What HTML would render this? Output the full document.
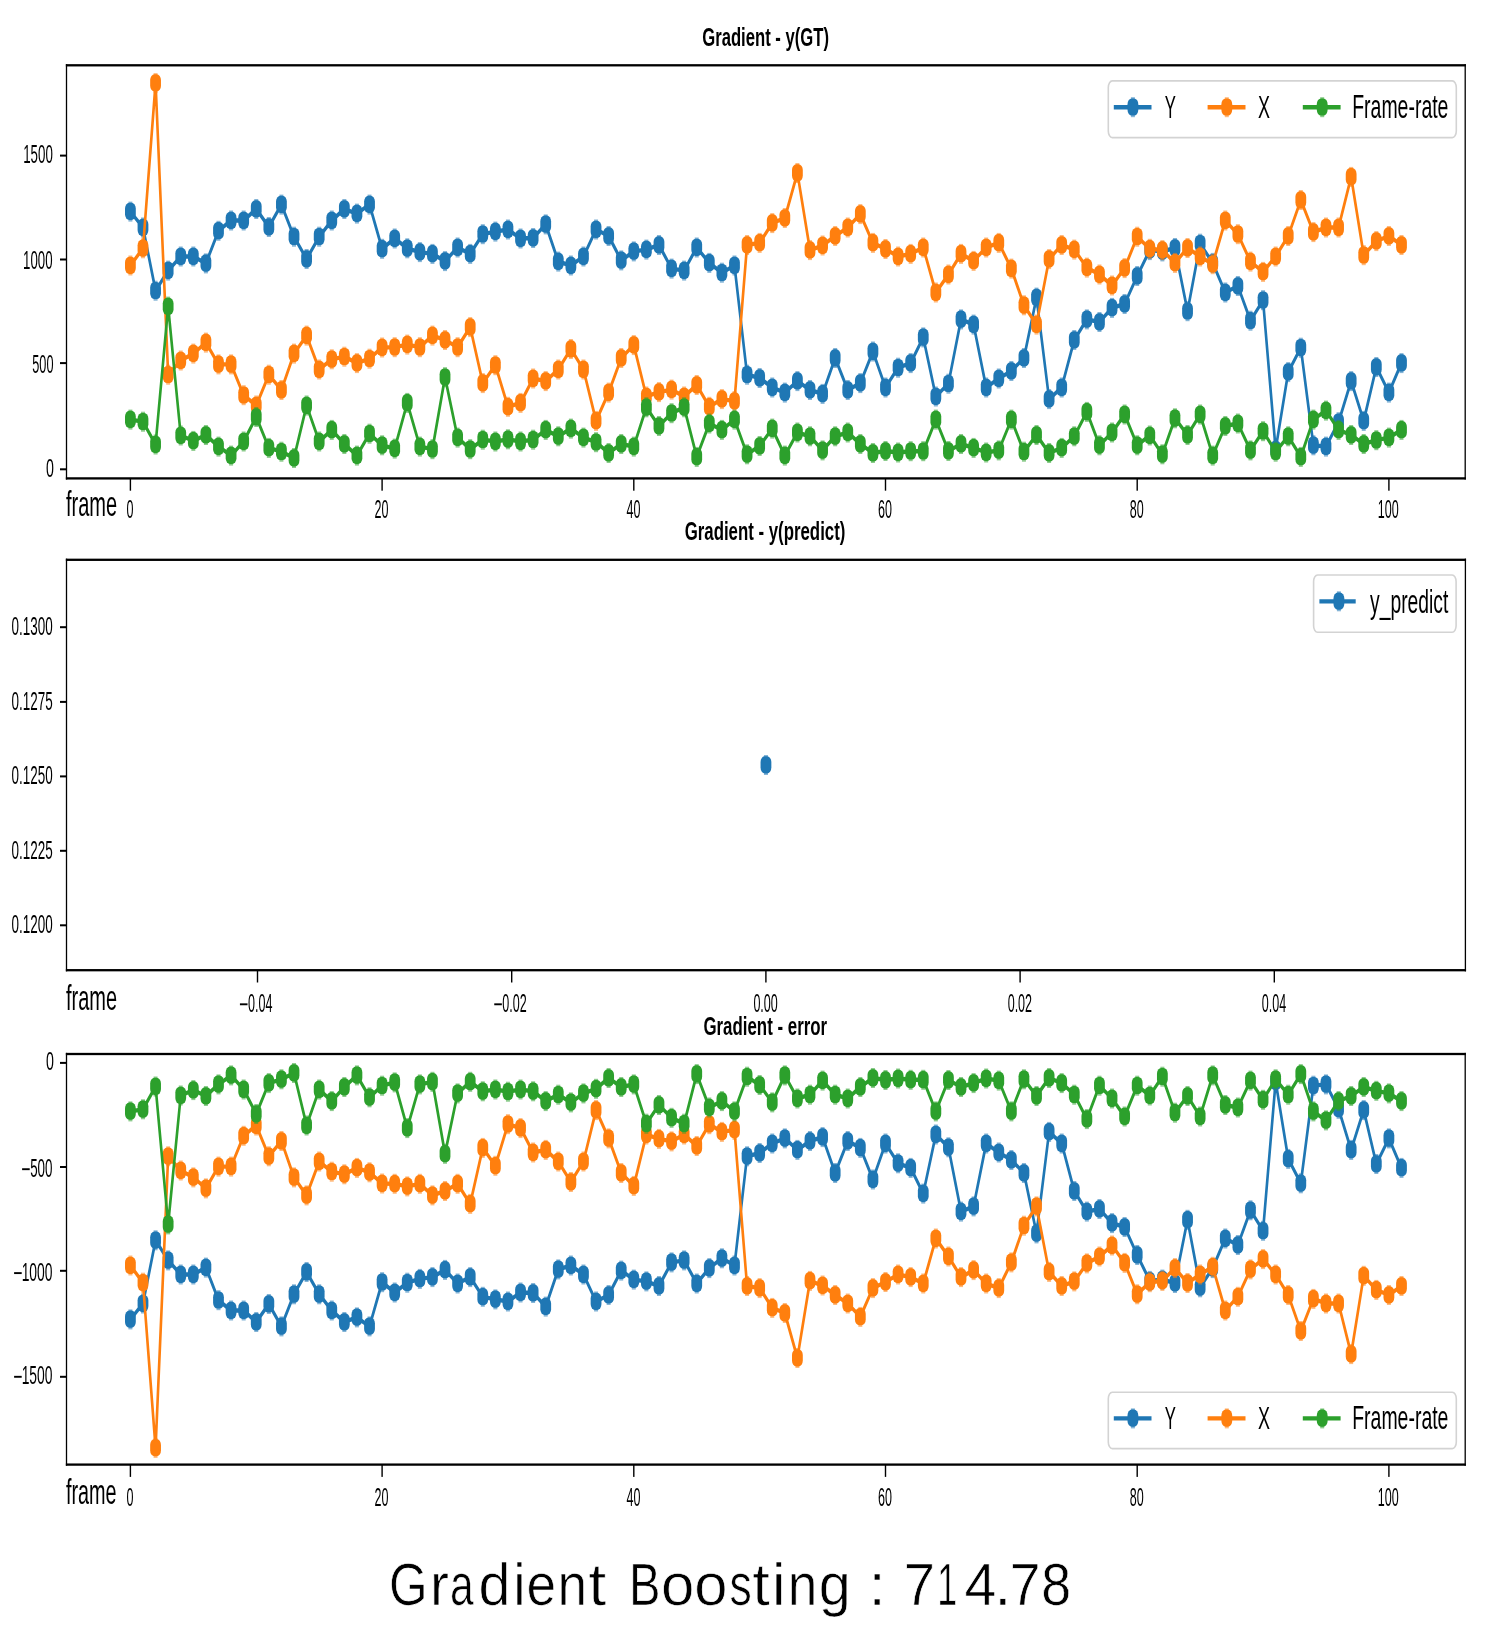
<!DOCTYPE html>
<html><head><meta charset="utf-8"><title>Gradient Boosting</title>
<style>
html,body{margin:0;padding:0;background:#fff;}
svg{display:block;will-change:transform;}
text{font-family:"Liberation Sans",sans-serif;font-kerning:none;}
</style></head><body>
<svg width="1485" height="1635" viewBox="0 0 1485 1635">
<rect width="1485" height="1635" fill="#fff"/>
<text transform="translate(702.22,45.80) scale(0.6591,1)" font-size="25.30" font-weight="bold" fill="#000">Gradient - y(GT)</text>
<rect x="65.85" y="64.15" width="1400.00" height="2.30" fill="#000"/>
<rect x="65.85" y="477.25" width="1400.00" height="2.30" fill="#000"/>
<rect x="65.85" y="64.15" width="1.30" height="415.40" fill="#000"/>
<rect x="1464.55" y="64.15" width="1.30" height="415.40" fill="#000"/>
<rect x="60.00" y="154.60" width="6.50" height="2.00" fill="#000"/>
<rect x="60.00" y="258.50" width="6.50" height="2.00" fill="#000"/>
<rect x="60.00" y="362.10" width="6.50" height="2.00" fill="#000"/>
<rect x="60.00" y="468.30" width="6.50" height="2.00" fill="#000"/>
<text transform="translate(23.19,163.15) scale(0.5307,1)" font-size="25.10" fill="#000">1500</text>
<text transform="translate(23.09,269.35) scale(0.5270,1)" font-size="25.10" fill="#000">1000</text>
<text transform="translate(32.29,373.15) scale(0.5064,1)" font-size="25.10" fill="#000">500</text>
<text transform="translate(46.04,476.75) scale(0.5667,1)" font-size="25.10" fill="#000">0</text>
<rect x="129.70" y="478.40" width="1.40" height="12.30" fill="#000"/>
<text transform="translate(126.41,517.55) scale(0.5000,1)" font-size="25.10" fill="#000">0</text>
<rect x="381.40" y="478.40" width="1.40" height="12.30" fill="#000"/>
<text transform="translate(374.55,517.55) scale(0.5000,1)" font-size="25.10" fill="#000">20</text>
<rect x="633.10" y="478.40" width="1.40" height="12.30" fill="#000"/>
<text transform="translate(626.42,517.55) scale(0.5000,1)" font-size="25.10" fill="#000">40</text>
<rect x="884.80" y="478.40" width="1.40" height="12.30" fill="#000"/>
<text transform="translate(877.95,517.55) scale(0.5000,1)" font-size="25.10" fill="#000">60</text>
<rect x="1136.50" y="478.40" width="1.40" height="12.30" fill="#000"/>
<text transform="translate(1129.69,517.55) scale(0.5000,1)" font-size="25.10" fill="#000">80</text>
<rect x="1388.20" y="478.40" width="1.40" height="12.30" fill="#000"/>
<text transform="translate(1377.70,517.55) scale(0.5000,1)" font-size="25.10" fill="#000">100</text>
<text transform="translate(65.92,515.90) scale(0.5720,1)" font-size="35.00" fill="#000">frame</text>
<g transform="scale(1.75,2.9)">
<polyline points="74.51,72.97 81.71,78.45 88.90,100.24 96.09,93.31 103.28,88.45 110.47,88.45 117.66,90.83 124.85,79.59 132.05,76.03 139.24,76.03 146.43,72.07 153.62,78.28 160.81,70.55 168.00,81.62 175.19,89.31 182.39,81.62 189.58,76.03 196.77,72.07 203.96,73.66 211.15,70.55 218.34,85.79 225.53,82.24 232.73,85.62 239.92,86.93 247.11,87.55 254.30,90.03 261.49,85.34 268.68,87.55 275.87,80.76 283.07,79.86 290.26,79.14 297.45,82.24 304.64,82.07 311.83,77.38 319.02,90.21 326.21,91.55 333.41,88.45 340.60,79.14 347.79,81.38 354.98,89.79 362.17,86.69 369.36,86.07 376.55,84.48 383.75,92.62 390.94,93.31 398.13,85.34 405.32,90.66 412.51,94.03 419.70,91.55 426.89,129.21 434.09,130.34 441.28,133.62 448.47,135.38 455.66,131.41 462.85,134.48 470.04,135.83 477.23,123.45 484.43,134.48 491.62,132.10 498.81,121.21 506.00,133.62 513.19,126.79 520.38,125.21 527.57,116.34 534.77,136.72 541.96,132.31 549.15,110.14 556.34,111.93 563.53,133.62 570.72,130.52 577.91,127.93 585.11,123.45 592.30,102.62 599.49,137.62 606.68,133.62 613.87,117.24 621.06,110.14 628.25,111.03 635.45,106.17 642.64,104.83 649.83,95.17 657.02,86.24 664.21,86.69 671.40,85.52 678.59,107.31 685.79,84.03 692.98,90.66 700.17,100.86 707.36,98.62 714.55,110.59 721.74,103.52 728.93,155.00 736.13,128.31 743.32,119.90 750.51,153.55 757.70,154.00 764.89,145.59 772.08,131.41 779.27,145.14 786.47,126.55 793.66,135.38 800.85,125.21" fill="none" stroke="#1f77b4" stroke-width="1.5" stroke-linejoin="round" stroke-linecap="butt"/>
</g>
<g fill="#1f77b4">
<rect x="128.40" y="201.60" width="4" height="20" fill-opacity="0.55"/><rect x="125.00" y="202.80" width="10.8" height="17.2" rx="4.3" ry="5.8"/>
<rect x="140.99" y="217.50" width="4" height="20" fill-opacity="0.55"/><rect x="137.59" y="218.70" width="10.8" height="17.2" rx="4.3" ry="5.8"/>
<rect x="153.57" y="280.70" width="4" height="20" fill-opacity="0.55"/><rect x="150.17" y="281.90" width="10.8" height="17.2" rx="4.3" ry="5.8"/>
<rect x="166.16" y="260.60" width="4" height="20" fill-opacity="0.55"/><rect x="162.75" y="261.80" width="10.8" height="17.2" rx="4.3" ry="5.8"/>
<rect x="178.74" y="246.50" width="4" height="20" fill-opacity="0.55"/><rect x="175.34" y="247.70" width="10.8" height="17.2" rx="4.3" ry="5.8"/>
<rect x="191.33" y="246.50" width="4" height="20" fill-opacity="0.55"/><rect x="187.93" y="247.70" width="10.8" height="17.2" rx="4.3" ry="5.8"/>
<rect x="203.91" y="253.40" width="4" height="20" fill-opacity="0.55"/><rect x="200.51" y="254.60" width="10.8" height="17.2" rx="4.3" ry="5.8"/>
<rect x="216.50" y="220.80" width="4" height="20" fill-opacity="0.55"/><rect x="213.09" y="222.00" width="10.8" height="17.2" rx="4.3" ry="5.8"/>
<rect x="229.08" y="210.50" width="4" height="20" fill-opacity="0.55"/><rect x="225.68" y="211.70" width="10.8" height="17.2" rx="4.3" ry="5.8"/>
<rect x="241.67" y="210.50" width="4" height="20" fill-opacity="0.55"/><rect x="238.27" y="211.70" width="10.8" height="17.2" rx="4.3" ry="5.8"/>
<rect x="254.25" y="199.00" width="4" height="20" fill-opacity="0.55"/><rect x="250.85" y="200.20" width="10.8" height="17.2" rx="4.3" ry="5.8"/>
<rect x="266.84" y="217.00" width="4" height="20" fill-opacity="0.55"/><rect x="263.44" y="218.20" width="10.8" height="17.2" rx="4.3" ry="5.8"/>
<rect x="279.42" y="194.60" width="4" height="20" fill-opacity="0.55"/><rect x="276.02" y="195.80" width="10.8" height="17.2" rx="4.3" ry="5.8"/>
<rect x="292.00" y="226.70" width="4" height="20" fill-opacity="0.55"/><rect x="288.61" y="227.90" width="10.8" height="17.2" rx="4.3" ry="5.8"/>
<rect x="304.59" y="249.00" width="4" height="20" fill-opacity="0.55"/><rect x="301.19" y="250.20" width="10.8" height="17.2" rx="4.3" ry="5.8"/>
<rect x="317.18" y="226.70" width="4" height="20" fill-opacity="0.55"/><rect x="313.78" y="227.90" width="10.8" height="17.2" rx="4.3" ry="5.8"/>
<rect x="329.76" y="210.50" width="4" height="20" fill-opacity="0.55"/><rect x="326.36" y="211.70" width="10.8" height="17.2" rx="4.3" ry="5.8"/>
<rect x="342.35" y="199.00" width="4" height="20" fill-opacity="0.55"/><rect x="338.95" y="200.20" width="10.8" height="17.2" rx="4.3" ry="5.8"/>
<rect x="354.93" y="203.60" width="4" height="20" fill-opacity="0.55"/><rect x="351.53" y="204.80" width="10.8" height="17.2" rx="4.3" ry="5.8"/>
<rect x="367.51" y="194.60" width="4" height="20" fill-opacity="0.55"/><rect x="364.12" y="195.80" width="10.8" height="17.2" rx="4.3" ry="5.8"/>
<rect x="380.10" y="238.80" width="4" height="20" fill-opacity="0.55"/><rect x="376.70" y="240.00" width="10.8" height="17.2" rx="4.3" ry="5.8"/>
<rect x="392.69" y="228.50" width="4" height="20" fill-opacity="0.55"/><rect x="389.29" y="229.70" width="10.8" height="17.2" rx="4.3" ry="5.8"/>
<rect x="405.27" y="238.30" width="4" height="20" fill-opacity="0.55"/><rect x="401.87" y="239.50" width="10.8" height="17.2" rx="4.3" ry="5.8"/>
<rect x="417.86" y="242.10" width="4" height="20" fill-opacity="0.55"/><rect x="414.46" y="243.30" width="10.8" height="17.2" rx="4.3" ry="5.8"/>
<rect x="430.44" y="243.90" width="4" height="20" fill-opacity="0.55"/><rect x="427.04" y="245.10" width="10.8" height="17.2" rx="4.3" ry="5.8"/>
<rect x="443.02" y="251.10" width="4" height="20" fill-opacity="0.55"/><rect x="439.62" y="252.30" width="10.8" height="17.2" rx="4.3" ry="5.8"/>
<rect x="455.61" y="237.50" width="4" height="20" fill-opacity="0.55"/><rect x="452.21" y="238.70" width="10.8" height="17.2" rx="4.3" ry="5.8"/>
<rect x="468.20" y="243.90" width="4" height="20" fill-opacity="0.55"/><rect x="464.80" y="245.10" width="10.8" height="17.2" rx="4.3" ry="5.8"/>
<rect x="480.78" y="224.20" width="4" height="20" fill-opacity="0.55"/><rect x="477.38" y="225.40" width="10.8" height="17.2" rx="4.3" ry="5.8"/>
<rect x="493.37" y="221.60" width="4" height="20" fill-opacity="0.55"/><rect x="489.97" y="222.80" width="10.8" height="17.2" rx="4.3" ry="5.8"/>
<rect x="505.95" y="219.50" width="4" height="20" fill-opacity="0.55"/><rect x="502.55" y="220.70" width="10.8" height="17.2" rx="4.3" ry="5.8"/>
<rect x="518.54" y="228.50" width="4" height="20" fill-opacity="0.55"/><rect x="515.14" y="229.70" width="10.8" height="17.2" rx="4.3" ry="5.8"/>
<rect x="531.12" y="228.00" width="4" height="20" fill-opacity="0.55"/><rect x="527.72" y="229.20" width="10.8" height="17.2" rx="4.3" ry="5.8"/>
<rect x="543.71" y="214.40" width="4" height="20" fill-opacity="0.55"/><rect x="540.31" y="215.60" width="10.8" height="17.2" rx="4.3" ry="5.8"/>
<rect x="556.29" y="251.60" width="4" height="20" fill-opacity="0.55"/><rect x="552.89" y="252.80" width="10.8" height="17.2" rx="4.3" ry="5.8"/>
<rect x="568.88" y="255.50" width="4" height="20" fill-opacity="0.55"/><rect x="565.48" y="256.70" width="10.8" height="17.2" rx="4.3" ry="5.8"/>
<rect x="581.46" y="246.50" width="4" height="20" fill-opacity="0.55"/><rect x="578.06" y="247.70" width="10.8" height="17.2" rx="4.3" ry="5.8"/>
<rect x="594.05" y="219.50" width="4" height="20" fill-opacity="0.55"/><rect x="590.65" y="220.70" width="10.8" height="17.2" rx="4.3" ry="5.8"/>
<rect x="606.63" y="226.00" width="4" height="20" fill-opacity="0.55"/><rect x="603.23" y="227.20" width="10.8" height="17.2" rx="4.3" ry="5.8"/>
<rect x="619.22" y="250.40" width="4" height="20" fill-opacity="0.55"/><rect x="615.82" y="251.60" width="10.8" height="17.2" rx="4.3" ry="5.8"/>
<rect x="631.80" y="241.40" width="4" height="20" fill-opacity="0.55"/><rect x="628.40" y="242.60" width="10.8" height="17.2" rx="4.3" ry="5.8"/>
<rect x="644.38" y="239.60" width="4" height="20" fill-opacity="0.55"/><rect x="640.99" y="240.80" width="10.8" height="17.2" rx="4.3" ry="5.8"/>
<rect x="656.97" y="235.00" width="4" height="20" fill-opacity="0.55"/><rect x="653.57" y="236.20" width="10.8" height="17.2" rx="4.3" ry="5.8"/>
<rect x="669.56" y="258.60" width="4" height="20" fill-opacity="0.55"/><rect x="666.16" y="259.80" width="10.8" height="17.2" rx="4.3" ry="5.8"/>
<rect x="682.14" y="260.60" width="4" height="20" fill-opacity="0.55"/><rect x="678.74" y="261.80" width="10.8" height="17.2" rx="4.3" ry="5.8"/>
<rect x="694.73" y="237.50" width="4" height="20" fill-opacity="0.55"/><rect x="691.33" y="238.70" width="10.8" height="17.2" rx="4.3" ry="5.8"/>
<rect x="707.31" y="252.90" width="4" height="20" fill-opacity="0.55"/><rect x="703.91" y="254.10" width="10.8" height="17.2" rx="4.3" ry="5.8"/>
<rect x="719.89" y="262.70" width="4" height="20" fill-opacity="0.55"/><rect x="716.50" y="263.90" width="10.8" height="17.2" rx="4.3" ry="5.8"/>
<rect x="732.48" y="255.50" width="4" height="20" fill-opacity="0.55"/><rect x="729.08" y="256.70" width="10.8" height="17.2" rx="4.3" ry="5.8"/>
<rect x="745.07" y="364.70" width="4" height="20" fill-opacity="0.55"/><rect x="741.67" y="365.90" width="10.8" height="17.2" rx="4.3" ry="5.8"/>
<rect x="757.65" y="368.00" width="4" height="20" fill-opacity="0.55"/><rect x="754.25" y="369.20" width="10.8" height="17.2" rx="4.3" ry="5.8"/>
<rect x="770.24" y="377.50" width="4" height="20" fill-opacity="0.55"/><rect x="766.84" y="378.70" width="10.8" height="17.2" rx="4.3" ry="5.8"/>
<rect x="782.82" y="382.60" width="4" height="20" fill-opacity="0.55"/><rect x="779.42" y="383.80" width="10.8" height="17.2" rx="4.3" ry="5.8"/>
<rect x="795.40" y="371.10" width="4" height="20" fill-opacity="0.55"/><rect x="792.00" y="372.30" width="10.8" height="17.2" rx="4.3" ry="5.8"/>
<rect x="807.99" y="380.00" width="4" height="20" fill-opacity="0.55"/><rect x="804.59" y="381.20" width="10.8" height="17.2" rx="4.3" ry="5.8"/>
<rect x="820.58" y="383.90" width="4" height="20" fill-opacity="0.55"/><rect x="817.18" y="385.10" width="10.8" height="17.2" rx="4.3" ry="5.8"/>
<rect x="833.16" y="348.00" width="4" height="20" fill-opacity="0.55"/><rect x="829.76" y="349.20" width="10.8" height="17.2" rx="4.3" ry="5.8"/>
<rect x="845.75" y="380.00" width="4" height="20" fill-opacity="0.55"/><rect x="842.35" y="381.20" width="10.8" height="17.2" rx="4.3" ry="5.8"/>
<rect x="858.33" y="373.10" width="4" height="20" fill-opacity="0.55"/><rect x="854.93" y="374.30" width="10.8" height="17.2" rx="4.3" ry="5.8"/>
<rect x="870.92" y="341.50" width="4" height="20" fill-opacity="0.55"/><rect x="867.52" y="342.70" width="10.8" height="17.2" rx="4.3" ry="5.8"/>
<rect x="883.50" y="377.50" width="4" height="20" fill-opacity="0.55"/><rect x="880.10" y="378.70" width="10.8" height="17.2" rx="4.3" ry="5.8"/>
<rect x="896.09" y="357.70" width="4" height="20" fill-opacity="0.55"/><rect x="892.69" y="358.90" width="10.8" height="17.2" rx="4.3" ry="5.8"/>
<rect x="908.67" y="353.10" width="4" height="20" fill-opacity="0.55"/><rect x="905.27" y="354.30" width="10.8" height="17.2" rx="4.3" ry="5.8"/>
<rect x="921.25" y="327.40" width="4" height="20" fill-opacity="0.55"/><rect x="917.86" y="328.60" width="10.8" height="17.2" rx="4.3" ry="5.8"/>
<rect x="933.84" y="386.50" width="4" height="20" fill-opacity="0.55"/><rect x="930.44" y="387.70" width="10.8" height="17.2" rx="4.3" ry="5.8"/>
<rect x="946.43" y="373.70" width="4" height="20" fill-opacity="0.55"/><rect x="943.03" y="374.90" width="10.8" height="17.2" rx="4.3" ry="5.8"/>
<rect x="959.01" y="309.40" width="4" height="20" fill-opacity="0.55"/><rect x="955.61" y="310.60" width="10.8" height="17.2" rx="4.3" ry="5.8"/>
<rect x="971.60" y="314.60" width="4" height="20" fill-opacity="0.55"/><rect x="968.20" y="315.80" width="10.8" height="17.2" rx="4.3" ry="5.8"/>
<rect x="984.18" y="377.50" width="4" height="20" fill-opacity="0.55"/><rect x="980.78" y="378.70" width="10.8" height="17.2" rx="4.3" ry="5.8"/>
<rect x="996.76" y="368.50" width="4" height="20" fill-opacity="0.55"/><rect x="993.37" y="369.70" width="10.8" height="17.2" rx="4.3" ry="5.8"/>
<rect x="1009.35" y="361.00" width="4" height="20" fill-opacity="0.55"/><rect x="1005.95" y="362.20" width="10.8" height="17.2" rx="4.3" ry="5.8"/>
<rect x="1021.94" y="348.00" width="4" height="20" fill-opacity="0.55"/><rect x="1018.54" y="349.20" width="10.8" height="17.2" rx="4.3" ry="5.8"/>
<rect x="1034.52" y="287.60" width="4" height="20" fill-opacity="0.55"/><rect x="1031.12" y="288.80" width="10.8" height="17.2" rx="4.3" ry="5.8"/>
<rect x="1047.11" y="389.10" width="4" height="20" fill-opacity="0.55"/><rect x="1043.70" y="390.30" width="10.8" height="17.2" rx="4.3" ry="5.8"/>
<rect x="1059.69" y="377.50" width="4" height="20" fill-opacity="0.55"/><rect x="1056.29" y="378.70" width="10.8" height="17.2" rx="4.3" ry="5.8"/>
<rect x="1072.28" y="330.00" width="4" height="20" fill-opacity="0.55"/><rect x="1068.88" y="331.20" width="10.8" height="17.2" rx="4.3" ry="5.8"/>
<rect x="1084.86" y="309.40" width="4" height="20" fill-opacity="0.55"/><rect x="1081.46" y="310.60" width="10.8" height="17.2" rx="4.3" ry="5.8"/>
<rect x="1097.45" y="312.00" width="4" height="20" fill-opacity="0.55"/><rect x="1094.05" y="313.20" width="10.8" height="17.2" rx="4.3" ry="5.8"/>
<rect x="1110.03" y="297.90" width="4" height="20" fill-opacity="0.55"/><rect x="1106.63" y="299.10" width="10.8" height="17.2" rx="4.3" ry="5.8"/>
<rect x="1122.62" y="294.00" width="4" height="20" fill-opacity="0.55"/><rect x="1119.21" y="295.20" width="10.8" height="17.2" rx="4.3" ry="5.8"/>
<rect x="1135.20" y="266.00" width="4" height="20" fill-opacity="0.55"/><rect x="1131.80" y="267.20" width="10.8" height="17.2" rx="4.3" ry="5.8"/>
<rect x="1147.79" y="240.10" width="4" height="20" fill-opacity="0.55"/><rect x="1144.38" y="241.30" width="10.8" height="17.2" rx="4.3" ry="5.8"/>
<rect x="1160.37" y="241.40" width="4" height="20" fill-opacity="0.55"/><rect x="1156.97" y="242.60" width="10.8" height="17.2" rx="4.3" ry="5.8"/>
<rect x="1172.96" y="238.00" width="4" height="20" fill-opacity="0.55"/><rect x="1169.56" y="239.20" width="10.8" height="17.2" rx="4.3" ry="5.8"/>
<rect x="1185.54" y="301.20" width="4" height="20" fill-opacity="0.55"/><rect x="1182.14" y="302.40" width="10.8" height="17.2" rx="4.3" ry="5.8"/>
<rect x="1198.13" y="233.70" width="4" height="20" fill-opacity="0.55"/><rect x="1194.73" y="234.90" width="10.8" height="17.2" rx="4.3" ry="5.8"/>
<rect x="1210.71" y="252.90" width="4" height="20" fill-opacity="0.55"/><rect x="1207.31" y="254.10" width="10.8" height="17.2" rx="4.3" ry="5.8"/>
<rect x="1223.30" y="282.50" width="4" height="20" fill-opacity="0.55"/><rect x="1219.89" y="283.70" width="10.8" height="17.2" rx="4.3" ry="5.8"/>
<rect x="1235.88" y="276.00" width="4" height="20" fill-opacity="0.55"/><rect x="1232.48" y="277.20" width="10.8" height="17.2" rx="4.3" ry="5.8"/>
<rect x="1248.47" y="310.70" width="4" height="20" fill-opacity="0.55"/><rect x="1245.07" y="311.90" width="10.8" height="17.2" rx="4.3" ry="5.8"/>
<rect x="1261.05" y="290.20" width="4" height="20" fill-opacity="0.55"/><rect x="1257.65" y="291.40" width="10.8" height="17.2" rx="4.3" ry="5.8"/>
<rect x="1273.64" y="439.50" width="4" height="20" fill-opacity="0.55"/><rect x="1270.24" y="440.70" width="10.8" height="17.2" rx="4.3" ry="5.8"/>
<rect x="1286.22" y="362.10" width="4" height="20" fill-opacity="0.55"/><rect x="1282.82" y="363.30" width="10.8" height="17.2" rx="4.3" ry="5.8"/>
<rect x="1298.81" y="337.70" width="4" height="20" fill-opacity="0.55"/><rect x="1295.40" y="338.90" width="10.8" height="17.2" rx="4.3" ry="5.8"/>
<rect x="1311.39" y="435.30" width="4" height="20" fill-opacity="0.55"/><rect x="1307.99" y="436.50" width="10.8" height="17.2" rx="4.3" ry="5.8"/>
<rect x="1323.98" y="436.60" width="4" height="20" fill-opacity="0.55"/><rect x="1320.58" y="437.80" width="10.8" height="17.2" rx="4.3" ry="5.8"/>
<rect x="1336.56" y="412.20" width="4" height="20" fill-opacity="0.55"/><rect x="1333.16" y="413.40" width="10.8" height="17.2" rx="4.3" ry="5.8"/>
<rect x="1349.15" y="371.10" width="4" height="20" fill-opacity="0.55"/><rect x="1345.75" y="372.30" width="10.8" height="17.2" rx="4.3" ry="5.8"/>
<rect x="1361.73" y="410.90" width="4" height="20" fill-opacity="0.55"/><rect x="1358.33" y="412.10" width="10.8" height="17.2" rx="4.3" ry="5.8"/>
<rect x="1374.32" y="357.00" width="4" height="20" fill-opacity="0.55"/><rect x="1370.92" y="358.20" width="10.8" height="17.2" rx="4.3" ry="5.8"/>
<rect x="1386.90" y="382.60" width="4" height="20" fill-opacity="0.55"/><rect x="1383.50" y="383.80" width="10.8" height="17.2" rx="4.3" ry="5.8"/>
<rect x="1399.49" y="353.10" width="4" height="20" fill-opacity="0.55"/><rect x="1396.09" y="354.30" width="10.8" height="17.2" rx="4.3" ry="5.8"/>
</g>
<g transform="scale(1.75,2.9)">
<polyline points="74.51,91.55 81.71,85.62 88.90,28.66 96.09,129.21 103.28,124.31 110.47,121.93 117.66,118.14 124.85,125.66 132.05,125.66 139.24,136.28 146.43,139.83 153.62,129.21 160.81,134.48 168.00,121.93 175.19,115.72 182.39,127.41 189.58,123.90 196.77,123.00 203.96,125.21 211.15,123.69 218.34,119.83 225.53,119.72 232.73,118.83 239.92,119.72 247.11,115.72 254.30,117.24 261.49,119.72 268.68,112.79 275.87,132.10 283.07,125.93 290.26,140.28 297.45,138.93 304.64,130.52 311.83,131.41 319.02,127.41 326.21,120.34 333.41,127.41 340.60,145.14 347.79,135.38 354.98,123.45 362.17,119.00 369.36,136.72 376.55,135.21 383.75,134.34 390.94,136.72 398.13,132.76 405.32,140.28 412.51,137.62 419.70,138.31 426.89,84.48 434.09,83.76 441.28,76.93 448.47,75.17 455.66,59.66 462.85,86.24 470.04,84.66 477.23,81.38 484.43,78.45 491.62,73.83 498.81,83.76 506.00,85.86 513.19,88.45 520.38,87.55 527.57,85.34 534.77,100.86 541.96,94.66 549.15,87.55 556.34,89.97 563.53,85.34 570.72,83.76 577.91,92.62 585.11,105.28 592.30,111.93 599.49,89.34 606.68,84.48 613.87,86.07 621.06,92.28 628.25,94.66 635.45,98.45 642.64,92.45 649.83,81.62 657.02,85.79 664.21,86.24 671.40,90.66 678.59,85.52 685.79,88.45 692.98,91.10 700.17,76.03 707.36,80.76 714.55,90.21 721.74,93.76 728.93,88.45 736.13,81.38 743.32,68.97 750.51,80.03 757.70,78.45 764.89,78.45 772.08,61.00 779.27,88.00 786.47,83.14 793.66,81.38 800.85,84.48" fill="none" stroke="#ff7f0e" stroke-width="1.5" stroke-linejoin="round" stroke-linecap="butt"/>
</g>
<g fill="#ff7f0e">
<rect x="128.40" y="255.50" width="4" height="20" fill-opacity="0.55"/><rect x="125.00" y="256.70" width="10.8" height="17.2" rx="4.3" ry="5.8"/>
<rect x="140.99" y="238.30" width="4" height="20" fill-opacity="0.55"/><rect x="137.59" y="239.50" width="10.8" height="17.2" rx="4.3" ry="5.8"/>
<rect x="153.57" y="73.10" width="4" height="20" fill-opacity="0.55"/><rect x="150.17" y="74.30" width="10.8" height="17.2" rx="4.3" ry="5.8"/>
<rect x="166.16" y="364.70" width="4" height="20" fill-opacity="0.55"/><rect x="162.75" y="365.90" width="10.8" height="17.2" rx="4.3" ry="5.8"/>
<rect x="178.74" y="350.50" width="4" height="20" fill-opacity="0.55"/><rect x="175.34" y="351.70" width="10.8" height="17.2" rx="4.3" ry="5.8"/>
<rect x="191.33" y="343.60" width="4" height="20" fill-opacity="0.55"/><rect x="187.93" y="344.80" width="10.8" height="17.2" rx="4.3" ry="5.8"/>
<rect x="203.91" y="332.60" width="4" height="20" fill-opacity="0.55"/><rect x="200.51" y="333.80" width="10.8" height="17.2" rx="4.3" ry="5.8"/>
<rect x="216.50" y="354.40" width="4" height="20" fill-opacity="0.55"/><rect x="213.09" y="355.60" width="10.8" height="17.2" rx="4.3" ry="5.8"/>
<rect x="229.08" y="354.40" width="4" height="20" fill-opacity="0.55"/><rect x="225.68" y="355.60" width="10.8" height="17.2" rx="4.3" ry="5.8"/>
<rect x="241.67" y="385.20" width="4" height="20" fill-opacity="0.55"/><rect x="238.27" y="386.40" width="10.8" height="17.2" rx="4.3" ry="5.8"/>
<rect x="254.25" y="395.50" width="4" height="20" fill-opacity="0.55"/><rect x="250.85" y="396.70" width="10.8" height="17.2" rx="4.3" ry="5.8"/>
<rect x="266.84" y="364.70" width="4" height="20" fill-opacity="0.55"/><rect x="263.44" y="365.90" width="10.8" height="17.2" rx="4.3" ry="5.8"/>
<rect x="279.42" y="380.00" width="4" height="20" fill-opacity="0.55"/><rect x="276.02" y="381.20" width="10.8" height="17.2" rx="4.3" ry="5.8"/>
<rect x="292.00" y="343.60" width="4" height="20" fill-opacity="0.55"/><rect x="288.61" y="344.80" width="10.8" height="17.2" rx="4.3" ry="5.8"/>
<rect x="304.59" y="325.60" width="4" height="20" fill-opacity="0.55"/><rect x="301.19" y="326.80" width="10.8" height="17.2" rx="4.3" ry="5.8"/>
<rect x="317.18" y="359.50" width="4" height="20" fill-opacity="0.55"/><rect x="313.78" y="360.70" width="10.8" height="17.2" rx="4.3" ry="5.8"/>
<rect x="329.76" y="349.30" width="4" height="20" fill-opacity="0.55"/><rect x="326.36" y="350.50" width="10.8" height="17.2" rx="4.3" ry="5.8"/>
<rect x="342.35" y="346.70" width="4" height="20" fill-opacity="0.55"/><rect x="338.95" y="347.90" width="10.8" height="17.2" rx="4.3" ry="5.8"/>
<rect x="354.93" y="353.10" width="4" height="20" fill-opacity="0.55"/><rect x="351.53" y="354.30" width="10.8" height="17.2" rx="4.3" ry="5.8"/>
<rect x="367.51" y="348.70" width="4" height="20" fill-opacity="0.55"/><rect x="364.12" y="349.90" width="10.8" height="17.2" rx="4.3" ry="5.8"/>
<rect x="380.10" y="337.50" width="4" height="20" fill-opacity="0.55"/><rect x="376.70" y="338.70" width="10.8" height="17.2" rx="4.3" ry="5.8"/>
<rect x="392.69" y="337.20" width="4" height="20" fill-opacity="0.55"/><rect x="389.29" y="338.40" width="10.8" height="17.2" rx="4.3" ry="5.8"/>
<rect x="405.27" y="334.60" width="4" height="20" fill-opacity="0.55"/><rect x="401.87" y="335.80" width="10.8" height="17.2" rx="4.3" ry="5.8"/>
<rect x="417.86" y="337.20" width="4" height="20" fill-opacity="0.55"/><rect x="414.46" y="338.40" width="10.8" height="17.2" rx="4.3" ry="5.8"/>
<rect x="430.44" y="325.60" width="4" height="20" fill-opacity="0.55"/><rect x="427.04" y="326.80" width="10.8" height="17.2" rx="4.3" ry="5.8"/>
<rect x="443.02" y="330.00" width="4" height="20" fill-opacity="0.55"/><rect x="439.62" y="331.20" width="10.8" height="17.2" rx="4.3" ry="5.8"/>
<rect x="455.61" y="337.20" width="4" height="20" fill-opacity="0.55"/><rect x="452.21" y="338.40" width="10.8" height="17.2" rx="4.3" ry="5.8"/>
<rect x="468.20" y="317.10" width="4" height="20" fill-opacity="0.55"/><rect x="464.80" y="318.30" width="10.8" height="17.2" rx="4.3" ry="5.8"/>
<rect x="480.78" y="373.10" width="4" height="20" fill-opacity="0.55"/><rect x="477.38" y="374.30" width="10.8" height="17.2" rx="4.3" ry="5.8"/>
<rect x="493.37" y="355.20" width="4" height="20" fill-opacity="0.55"/><rect x="489.97" y="356.40" width="10.8" height="17.2" rx="4.3" ry="5.8"/>
<rect x="505.95" y="396.80" width="4" height="20" fill-opacity="0.55"/><rect x="502.55" y="398.00" width="10.8" height="17.2" rx="4.3" ry="5.8"/>
<rect x="518.54" y="392.90" width="4" height="20" fill-opacity="0.55"/><rect x="515.14" y="394.10" width="10.8" height="17.2" rx="4.3" ry="5.8"/>
<rect x="531.12" y="368.50" width="4" height="20" fill-opacity="0.55"/><rect x="527.72" y="369.70" width="10.8" height="17.2" rx="4.3" ry="5.8"/>
<rect x="543.71" y="371.10" width="4" height="20" fill-opacity="0.55"/><rect x="540.31" y="372.30" width="10.8" height="17.2" rx="4.3" ry="5.8"/>
<rect x="556.29" y="359.50" width="4" height="20" fill-opacity="0.55"/><rect x="552.89" y="360.70" width="10.8" height="17.2" rx="4.3" ry="5.8"/>
<rect x="568.88" y="339.00" width="4" height="20" fill-opacity="0.55"/><rect x="565.48" y="340.20" width="10.8" height="17.2" rx="4.3" ry="5.8"/>
<rect x="581.46" y="359.50" width="4" height="20" fill-opacity="0.55"/><rect x="578.06" y="360.70" width="10.8" height="17.2" rx="4.3" ry="5.8"/>
<rect x="594.05" y="410.90" width="4" height="20" fill-opacity="0.55"/><rect x="590.65" y="412.10" width="10.8" height="17.2" rx="4.3" ry="5.8"/>
<rect x="606.63" y="382.60" width="4" height="20" fill-opacity="0.55"/><rect x="603.23" y="383.80" width="10.8" height="17.2" rx="4.3" ry="5.8"/>
<rect x="619.22" y="348.00" width="4" height="20" fill-opacity="0.55"/><rect x="615.82" y="349.20" width="10.8" height="17.2" rx="4.3" ry="5.8"/>
<rect x="631.80" y="335.10" width="4" height="20" fill-opacity="0.55"/><rect x="628.40" y="336.30" width="10.8" height="17.2" rx="4.3" ry="5.8"/>
<rect x="644.38" y="386.50" width="4" height="20" fill-opacity="0.55"/><rect x="640.99" y="387.70" width="10.8" height="17.2" rx="4.3" ry="5.8"/>
<rect x="656.97" y="382.10" width="4" height="20" fill-opacity="0.55"/><rect x="653.57" y="383.30" width="10.8" height="17.2" rx="4.3" ry="5.8"/>
<rect x="669.56" y="379.60" width="4" height="20" fill-opacity="0.55"/><rect x="666.16" y="380.80" width="10.8" height="17.2" rx="4.3" ry="5.8"/>
<rect x="682.14" y="386.50" width="4" height="20" fill-opacity="0.55"/><rect x="678.74" y="387.70" width="10.8" height="17.2" rx="4.3" ry="5.8"/>
<rect x="694.73" y="375.00" width="4" height="20" fill-opacity="0.55"/><rect x="691.33" y="376.20" width="10.8" height="17.2" rx="4.3" ry="5.8"/>
<rect x="707.31" y="396.80" width="4" height="20" fill-opacity="0.55"/><rect x="703.91" y="398.00" width="10.8" height="17.2" rx="4.3" ry="5.8"/>
<rect x="719.89" y="389.10" width="4" height="20" fill-opacity="0.55"/><rect x="716.50" y="390.30" width="10.8" height="17.2" rx="4.3" ry="5.8"/>
<rect x="732.48" y="391.10" width="4" height="20" fill-opacity="0.55"/><rect x="729.08" y="392.30" width="10.8" height="17.2" rx="4.3" ry="5.8"/>
<rect x="745.07" y="235.00" width="4" height="20" fill-opacity="0.55"/><rect x="741.67" y="236.20" width="10.8" height="17.2" rx="4.3" ry="5.8"/>
<rect x="757.65" y="232.90" width="4" height="20" fill-opacity="0.55"/><rect x="754.25" y="234.10" width="10.8" height="17.2" rx="4.3" ry="5.8"/>
<rect x="770.24" y="213.10" width="4" height="20" fill-opacity="0.55"/><rect x="766.84" y="214.30" width="10.8" height="17.2" rx="4.3" ry="5.8"/>
<rect x="782.82" y="208.00" width="4" height="20" fill-opacity="0.55"/><rect x="779.42" y="209.20" width="10.8" height="17.2" rx="4.3" ry="5.8"/>
<rect x="795.40" y="163.00" width="4" height="20" fill-opacity="0.55"/><rect x="792.00" y="164.20" width="10.8" height="17.2" rx="4.3" ry="5.8"/>
<rect x="807.99" y="240.10" width="4" height="20" fill-opacity="0.55"/><rect x="804.59" y="241.30" width="10.8" height="17.2" rx="4.3" ry="5.8"/>
<rect x="820.58" y="235.50" width="4" height="20" fill-opacity="0.55"/><rect x="817.18" y="236.70" width="10.8" height="17.2" rx="4.3" ry="5.8"/>
<rect x="833.16" y="226.00" width="4" height="20" fill-opacity="0.55"/><rect x="829.76" y="227.20" width="10.8" height="17.2" rx="4.3" ry="5.8"/>
<rect x="845.75" y="217.50" width="4" height="20" fill-opacity="0.55"/><rect x="842.35" y="218.70" width="10.8" height="17.2" rx="4.3" ry="5.8"/>
<rect x="858.33" y="204.10" width="4" height="20" fill-opacity="0.55"/><rect x="854.93" y="205.30" width="10.8" height="17.2" rx="4.3" ry="5.8"/>
<rect x="870.92" y="232.90" width="4" height="20" fill-opacity="0.55"/><rect x="867.52" y="234.10" width="10.8" height="17.2" rx="4.3" ry="5.8"/>
<rect x="883.50" y="239.00" width="4" height="20" fill-opacity="0.55"/><rect x="880.10" y="240.20" width="10.8" height="17.2" rx="4.3" ry="5.8"/>
<rect x="896.09" y="246.50" width="4" height="20" fill-opacity="0.55"/><rect x="892.69" y="247.70" width="10.8" height="17.2" rx="4.3" ry="5.8"/>
<rect x="908.67" y="243.90" width="4" height="20" fill-opacity="0.55"/><rect x="905.27" y="245.10" width="10.8" height="17.2" rx="4.3" ry="5.8"/>
<rect x="921.25" y="237.50" width="4" height="20" fill-opacity="0.55"/><rect x="917.86" y="238.70" width="10.8" height="17.2" rx="4.3" ry="5.8"/>
<rect x="933.84" y="282.50" width="4" height="20" fill-opacity="0.55"/><rect x="930.44" y="283.70" width="10.8" height="17.2" rx="4.3" ry="5.8"/>
<rect x="946.43" y="264.50" width="4" height="20" fill-opacity="0.55"/><rect x="943.03" y="265.70" width="10.8" height="17.2" rx="4.3" ry="5.8"/>
<rect x="959.01" y="243.90" width="4" height="20" fill-opacity="0.55"/><rect x="955.61" y="245.10" width="10.8" height="17.2" rx="4.3" ry="5.8"/>
<rect x="971.60" y="250.90" width="4" height="20" fill-opacity="0.55"/><rect x="968.20" y="252.10" width="10.8" height="17.2" rx="4.3" ry="5.8"/>
<rect x="984.18" y="237.50" width="4" height="20" fill-opacity="0.55"/><rect x="980.78" y="238.70" width="10.8" height="17.2" rx="4.3" ry="5.8"/>
<rect x="996.76" y="232.90" width="4" height="20" fill-opacity="0.55"/><rect x="993.37" y="234.10" width="10.8" height="17.2" rx="4.3" ry="5.8"/>
<rect x="1009.35" y="258.60" width="4" height="20" fill-opacity="0.55"/><rect x="1005.95" y="259.80" width="10.8" height="17.2" rx="4.3" ry="5.8"/>
<rect x="1021.94" y="295.30" width="4" height="20" fill-opacity="0.55"/><rect x="1018.54" y="296.50" width="10.8" height="17.2" rx="4.3" ry="5.8"/>
<rect x="1034.52" y="314.60" width="4" height="20" fill-opacity="0.55"/><rect x="1031.12" y="315.80" width="10.8" height="17.2" rx="4.3" ry="5.8"/>
<rect x="1047.11" y="249.10" width="4" height="20" fill-opacity="0.55"/><rect x="1043.70" y="250.30" width="10.8" height="17.2" rx="4.3" ry="5.8"/>
<rect x="1059.69" y="235.00" width="4" height="20" fill-opacity="0.55"/><rect x="1056.29" y="236.20" width="10.8" height="17.2" rx="4.3" ry="5.8"/>
<rect x="1072.28" y="239.60" width="4" height="20" fill-opacity="0.55"/><rect x="1068.88" y="240.80" width="10.8" height="17.2" rx="4.3" ry="5.8"/>
<rect x="1084.86" y="257.60" width="4" height="20" fill-opacity="0.55"/><rect x="1081.46" y="258.80" width="10.8" height="17.2" rx="4.3" ry="5.8"/>
<rect x="1097.45" y="264.50" width="4" height="20" fill-opacity="0.55"/><rect x="1094.05" y="265.70" width="10.8" height="17.2" rx="4.3" ry="5.8"/>
<rect x="1110.03" y="275.50" width="4" height="20" fill-opacity="0.55"/><rect x="1106.63" y="276.70" width="10.8" height="17.2" rx="4.3" ry="5.8"/>
<rect x="1122.62" y="258.10" width="4" height="20" fill-opacity="0.55"/><rect x="1119.21" y="259.30" width="10.8" height="17.2" rx="4.3" ry="5.8"/>
<rect x="1135.20" y="226.70" width="4" height="20" fill-opacity="0.55"/><rect x="1131.80" y="227.90" width="10.8" height="17.2" rx="4.3" ry="5.8"/>
<rect x="1147.79" y="238.80" width="4" height="20" fill-opacity="0.55"/><rect x="1144.38" y="240.00" width="10.8" height="17.2" rx="4.3" ry="5.8"/>
<rect x="1160.37" y="240.10" width="4" height="20" fill-opacity="0.55"/><rect x="1156.97" y="241.30" width="10.8" height="17.2" rx="4.3" ry="5.8"/>
<rect x="1172.96" y="252.90" width="4" height="20" fill-opacity="0.55"/><rect x="1169.56" y="254.10" width="10.8" height="17.2" rx="4.3" ry="5.8"/>
<rect x="1185.54" y="238.00" width="4" height="20" fill-opacity="0.55"/><rect x="1182.14" y="239.20" width="10.8" height="17.2" rx="4.3" ry="5.8"/>
<rect x="1198.13" y="246.50" width="4" height="20" fill-opacity="0.55"/><rect x="1194.73" y="247.70" width="10.8" height="17.2" rx="4.3" ry="5.8"/>
<rect x="1210.71" y="254.20" width="4" height="20" fill-opacity="0.55"/><rect x="1207.31" y="255.40" width="10.8" height="17.2" rx="4.3" ry="5.8"/>
<rect x="1223.30" y="210.50" width="4" height="20" fill-opacity="0.55"/><rect x="1219.89" y="211.70" width="10.8" height="17.2" rx="4.3" ry="5.8"/>
<rect x="1235.88" y="224.20" width="4" height="20" fill-opacity="0.55"/><rect x="1232.48" y="225.40" width="10.8" height="17.2" rx="4.3" ry="5.8"/>
<rect x="1248.47" y="251.60" width="4" height="20" fill-opacity="0.55"/><rect x="1245.07" y="252.80" width="10.8" height="17.2" rx="4.3" ry="5.8"/>
<rect x="1261.05" y="261.90" width="4" height="20" fill-opacity="0.55"/><rect x="1257.65" y="263.10" width="10.8" height="17.2" rx="4.3" ry="5.8"/>
<rect x="1273.64" y="246.50" width="4" height="20" fill-opacity="0.55"/><rect x="1270.24" y="247.70" width="10.8" height="17.2" rx="4.3" ry="5.8"/>
<rect x="1286.22" y="226.00" width="4" height="20" fill-opacity="0.55"/><rect x="1282.82" y="227.20" width="10.8" height="17.2" rx="4.3" ry="5.8"/>
<rect x="1298.81" y="190.00" width="4" height="20" fill-opacity="0.55"/><rect x="1295.40" y="191.20" width="10.8" height="17.2" rx="4.3" ry="5.8"/>
<rect x="1311.39" y="222.10" width="4" height="20" fill-opacity="0.55"/><rect x="1307.99" y="223.30" width="10.8" height="17.2" rx="4.3" ry="5.8"/>
<rect x="1323.98" y="217.50" width="4" height="20" fill-opacity="0.55"/><rect x="1320.58" y="218.70" width="10.8" height="17.2" rx="4.3" ry="5.8"/>
<rect x="1336.56" y="217.50" width="4" height="20" fill-opacity="0.55"/><rect x="1333.16" y="218.70" width="10.8" height="17.2" rx="4.3" ry="5.8"/>
<rect x="1349.15" y="166.90" width="4" height="20" fill-opacity="0.55"/><rect x="1345.75" y="168.10" width="10.8" height="17.2" rx="4.3" ry="5.8"/>
<rect x="1361.73" y="245.20" width="4" height="20" fill-opacity="0.55"/><rect x="1358.33" y="246.40" width="10.8" height="17.2" rx="4.3" ry="5.8"/>
<rect x="1374.32" y="231.10" width="4" height="20" fill-opacity="0.55"/><rect x="1370.92" y="232.30" width="10.8" height="17.2" rx="4.3" ry="5.8"/>
<rect x="1386.90" y="226.00" width="4" height="20" fill-opacity="0.55"/><rect x="1383.50" y="227.20" width="10.8" height="17.2" rx="4.3" ry="5.8"/>
<rect x="1399.49" y="235.00" width="4" height="20" fill-opacity="0.55"/><rect x="1396.09" y="236.20" width="10.8" height="17.2" rx="4.3" ry="5.8"/>
</g>
<g transform="scale(1.75,2.9)">
<polyline points="74.51,144.69 81.71,145.41 88.90,153.28 96.09,105.72 103.28,150.17 110.47,152.03 117.66,150.00 124.85,154.00 132.05,157.10 139.24,152.24 146.43,143.79 153.62,154.45 160.81,155.76 168.00,157.93 175.19,139.83 182.39,152.24 189.58,148.24 196.77,153.10 203.96,157.10 211.15,149.55 218.34,153.55 225.53,154.69 232.73,138.93 239.92,154.00 247.11,154.90 254.30,130.07 261.49,150.90 268.68,154.90 275.87,151.62 283.07,152.24 290.26,151.48 297.45,152.24 304.64,151.62 311.83,148.24 319.02,150.45 326.21,147.79 333.41,150.90 340.60,152.48 347.79,156.21 354.98,153.10 362.17,154.00 369.36,140.45 376.55,146.90 383.75,142.48 390.94,140.45 398.13,157.55 405.32,146.03 412.51,148.24 419.70,144.69 426.89,156.66 434.09,153.79 441.28,147.79 448.47,157.10 455.66,149.14 462.85,150.45 470.04,155.31 477.23,150.45 484.43,149.14 491.62,153.10 498.81,156.21 506.00,155.52 513.19,156.03 520.38,155.59 527.57,155.59 534.77,144.69 541.96,155.52 549.15,153.10 556.34,154.45 563.53,156.03 570.72,155.31 577.91,144.69 585.11,155.76 592.30,150.00 599.49,156.21 606.68,154.45 613.87,150.45 621.06,142.03 628.25,153.55 635.45,149.14 642.64,142.93 649.83,153.55 657.02,150.17 664.21,156.66 671.40,144.24 678.59,150.00 685.79,142.93 692.98,157.10 700.17,146.90 707.36,146.03 714.55,155.31 721.74,148.69 728.93,155.76 736.13,150.45 743.32,157.55 750.51,144.69 757.70,141.59 764.89,148.24 772.08,150.00 779.27,153.10 786.47,151.79 793.66,150.90 800.85,148.24" fill="none" stroke="#2ca02c" stroke-width="1.5" stroke-linejoin="round" stroke-linecap="butt"/>
</g>
<g fill="#2ca02c">
<rect x="128.40" y="409.60" width="4" height="20" fill-opacity="0.55"/><rect x="125.00" y="410.80" width="10.8" height="17.2" rx="4.3" ry="5.8"/>
<rect x="140.99" y="411.70" width="4" height="20" fill-opacity="0.55"/><rect x="137.59" y="412.90" width="10.8" height="17.2" rx="4.3" ry="5.8"/>
<rect x="153.57" y="434.50" width="4" height="20" fill-opacity="0.55"/><rect x="150.17" y="435.70" width="10.8" height="17.2" rx="4.3" ry="5.8"/>
<rect x="166.16" y="296.60" width="4" height="20" fill-opacity="0.55"/><rect x="162.75" y="297.80" width="10.8" height="17.2" rx="4.3" ry="5.8"/>
<rect x="178.74" y="425.50" width="4" height="20" fill-opacity="0.55"/><rect x="175.34" y="426.70" width="10.8" height="17.2" rx="4.3" ry="5.8"/>
<rect x="191.33" y="430.90" width="4" height="20" fill-opacity="0.55"/><rect x="187.93" y="432.10" width="10.8" height="17.2" rx="4.3" ry="5.8"/>
<rect x="203.91" y="425.00" width="4" height="20" fill-opacity="0.55"/><rect x="200.51" y="426.20" width="10.8" height="17.2" rx="4.3" ry="5.8"/>
<rect x="216.50" y="436.60" width="4" height="20" fill-opacity="0.55"/><rect x="213.09" y="437.80" width="10.8" height="17.2" rx="4.3" ry="5.8"/>
<rect x="229.08" y="445.60" width="4" height="20" fill-opacity="0.55"/><rect x="225.68" y="446.80" width="10.8" height="17.2" rx="4.3" ry="5.8"/>
<rect x="241.67" y="431.50" width="4" height="20" fill-opacity="0.55"/><rect x="238.27" y="432.70" width="10.8" height="17.2" rx="4.3" ry="5.8"/>
<rect x="254.25" y="407.00" width="4" height="20" fill-opacity="0.55"/><rect x="250.85" y="408.20" width="10.8" height="17.2" rx="4.3" ry="5.8"/>
<rect x="266.84" y="437.90" width="4" height="20" fill-opacity="0.55"/><rect x="263.44" y="439.10" width="10.8" height="17.2" rx="4.3" ry="5.8"/>
<rect x="279.42" y="441.70" width="4" height="20" fill-opacity="0.55"/><rect x="276.02" y="442.90" width="10.8" height="17.2" rx="4.3" ry="5.8"/>
<rect x="292.00" y="448.00" width="4" height="20" fill-opacity="0.55"/><rect x="288.61" y="449.20" width="10.8" height="17.2" rx="4.3" ry="5.8"/>
<rect x="304.59" y="395.50" width="4" height="20" fill-opacity="0.55"/><rect x="301.19" y="396.70" width="10.8" height="17.2" rx="4.3" ry="5.8"/>
<rect x="317.18" y="431.50" width="4" height="20" fill-opacity="0.55"/><rect x="313.78" y="432.70" width="10.8" height="17.2" rx="4.3" ry="5.8"/>
<rect x="329.76" y="419.90" width="4" height="20" fill-opacity="0.55"/><rect x="326.36" y="421.10" width="10.8" height="17.2" rx="4.3" ry="5.8"/>
<rect x="342.35" y="434.00" width="4" height="20" fill-opacity="0.55"/><rect x="338.95" y="435.20" width="10.8" height="17.2" rx="4.3" ry="5.8"/>
<rect x="354.93" y="445.60" width="4" height="20" fill-opacity="0.55"/><rect x="351.53" y="446.80" width="10.8" height="17.2" rx="4.3" ry="5.8"/>
<rect x="367.51" y="423.70" width="4" height="20" fill-opacity="0.55"/><rect x="364.12" y="424.90" width="10.8" height="17.2" rx="4.3" ry="5.8"/>
<rect x="380.10" y="435.30" width="4" height="20" fill-opacity="0.55"/><rect x="376.70" y="436.50" width="10.8" height="17.2" rx="4.3" ry="5.8"/>
<rect x="392.69" y="438.60" width="4" height="20" fill-opacity="0.55"/><rect x="389.29" y="439.80" width="10.8" height="17.2" rx="4.3" ry="5.8"/>
<rect x="405.27" y="392.90" width="4" height="20" fill-opacity="0.55"/><rect x="401.87" y="394.10" width="10.8" height="17.2" rx="4.3" ry="5.8"/>
<rect x="417.86" y="436.60" width="4" height="20" fill-opacity="0.55"/><rect x="414.46" y="437.80" width="10.8" height="17.2" rx="4.3" ry="5.8"/>
<rect x="430.44" y="439.20" width="4" height="20" fill-opacity="0.55"/><rect x="427.04" y="440.40" width="10.8" height="17.2" rx="4.3" ry="5.8"/>
<rect x="443.02" y="367.20" width="4" height="20" fill-opacity="0.55"/><rect x="439.62" y="368.40" width="10.8" height="17.2" rx="4.3" ry="5.8"/>
<rect x="455.61" y="427.60" width="4" height="20" fill-opacity="0.55"/><rect x="452.21" y="428.80" width="10.8" height="17.2" rx="4.3" ry="5.8"/>
<rect x="468.20" y="439.20" width="4" height="20" fill-opacity="0.55"/><rect x="464.80" y="440.40" width="10.8" height="17.2" rx="4.3" ry="5.8"/>
<rect x="480.78" y="429.70" width="4" height="20" fill-opacity="0.55"/><rect x="477.38" y="430.90" width="10.8" height="17.2" rx="4.3" ry="5.8"/>
<rect x="493.37" y="431.50" width="4" height="20" fill-opacity="0.55"/><rect x="489.97" y="432.70" width="10.8" height="17.2" rx="4.3" ry="5.8"/>
<rect x="505.95" y="429.30" width="4" height="20" fill-opacity="0.55"/><rect x="502.55" y="430.50" width="10.8" height="17.2" rx="4.3" ry="5.8"/>
<rect x="518.54" y="431.50" width="4" height="20" fill-opacity="0.55"/><rect x="515.14" y="432.70" width="10.8" height="17.2" rx="4.3" ry="5.8"/>
<rect x="531.12" y="429.70" width="4" height="20" fill-opacity="0.55"/><rect x="527.72" y="430.90" width="10.8" height="17.2" rx="4.3" ry="5.8"/>
<rect x="543.71" y="419.90" width="4" height="20" fill-opacity="0.55"/><rect x="540.31" y="421.10" width="10.8" height="17.2" rx="4.3" ry="5.8"/>
<rect x="556.29" y="426.30" width="4" height="20" fill-opacity="0.55"/><rect x="552.89" y="427.50" width="10.8" height="17.2" rx="4.3" ry="5.8"/>
<rect x="568.88" y="418.60" width="4" height="20" fill-opacity="0.55"/><rect x="565.48" y="419.80" width="10.8" height="17.2" rx="4.3" ry="5.8"/>
<rect x="581.46" y="427.60" width="4" height="20" fill-opacity="0.55"/><rect x="578.06" y="428.80" width="10.8" height="17.2" rx="4.3" ry="5.8"/>
<rect x="594.05" y="432.20" width="4" height="20" fill-opacity="0.55"/><rect x="590.65" y="433.40" width="10.8" height="17.2" rx="4.3" ry="5.8"/>
<rect x="606.63" y="443.00" width="4" height="20" fill-opacity="0.55"/><rect x="603.23" y="444.20" width="10.8" height="17.2" rx="4.3" ry="5.8"/>
<rect x="619.22" y="434.00" width="4" height="20" fill-opacity="0.55"/><rect x="615.82" y="435.20" width="10.8" height="17.2" rx="4.3" ry="5.8"/>
<rect x="631.80" y="436.60" width="4" height="20" fill-opacity="0.55"/><rect x="628.40" y="437.80" width="10.8" height="17.2" rx="4.3" ry="5.8"/>
<rect x="644.38" y="397.30" width="4" height="20" fill-opacity="0.55"/><rect x="640.99" y="398.50" width="10.8" height="17.2" rx="4.3" ry="5.8"/>
<rect x="656.97" y="416.00" width="4" height="20" fill-opacity="0.55"/><rect x="653.57" y="417.20" width="10.8" height="17.2" rx="4.3" ry="5.8"/>
<rect x="669.56" y="403.20" width="4" height="20" fill-opacity="0.55"/><rect x="666.16" y="404.40" width="10.8" height="17.2" rx="4.3" ry="5.8"/>
<rect x="682.14" y="397.30" width="4" height="20" fill-opacity="0.55"/><rect x="678.74" y="398.50" width="10.8" height="17.2" rx="4.3" ry="5.8"/>
<rect x="694.73" y="446.90" width="4" height="20" fill-opacity="0.55"/><rect x="691.33" y="448.10" width="10.8" height="17.2" rx="4.3" ry="5.8"/>
<rect x="707.31" y="413.50" width="4" height="20" fill-opacity="0.55"/><rect x="703.91" y="414.70" width="10.8" height="17.2" rx="4.3" ry="5.8"/>
<rect x="719.89" y="419.90" width="4" height="20" fill-opacity="0.55"/><rect x="716.50" y="421.10" width="10.8" height="17.2" rx="4.3" ry="5.8"/>
<rect x="732.48" y="409.60" width="4" height="20" fill-opacity="0.55"/><rect x="729.08" y="410.80" width="10.8" height="17.2" rx="4.3" ry="5.8"/>
<rect x="745.07" y="444.30" width="4" height="20" fill-opacity="0.55"/><rect x="741.67" y="445.50" width="10.8" height="17.2" rx="4.3" ry="5.8"/>
<rect x="757.65" y="436.00" width="4" height="20" fill-opacity="0.55"/><rect x="754.25" y="437.20" width="10.8" height="17.2" rx="4.3" ry="5.8"/>
<rect x="770.24" y="418.60" width="4" height="20" fill-opacity="0.55"/><rect x="766.84" y="419.80" width="10.8" height="17.2" rx="4.3" ry="5.8"/>
<rect x="782.82" y="445.60" width="4" height="20" fill-opacity="0.55"/><rect x="779.42" y="446.80" width="10.8" height="17.2" rx="4.3" ry="5.8"/>
<rect x="795.40" y="422.50" width="4" height="20" fill-opacity="0.55"/><rect x="792.00" y="423.70" width="10.8" height="17.2" rx="4.3" ry="5.8"/>
<rect x="807.99" y="426.30" width="4" height="20" fill-opacity="0.55"/><rect x="804.59" y="427.50" width="10.8" height="17.2" rx="4.3" ry="5.8"/>
<rect x="820.58" y="440.40" width="4" height="20" fill-opacity="0.55"/><rect x="817.18" y="441.60" width="10.8" height="17.2" rx="4.3" ry="5.8"/>
<rect x="833.16" y="426.30" width="4" height="20" fill-opacity="0.55"/><rect x="829.76" y="427.50" width="10.8" height="17.2" rx="4.3" ry="5.8"/>
<rect x="845.75" y="422.50" width="4" height="20" fill-opacity="0.55"/><rect x="842.35" y="423.70" width="10.8" height="17.2" rx="4.3" ry="5.8"/>
<rect x="858.33" y="434.00" width="4" height="20" fill-opacity="0.55"/><rect x="854.93" y="435.20" width="10.8" height="17.2" rx="4.3" ry="5.8"/>
<rect x="870.92" y="443.00" width="4" height="20" fill-opacity="0.55"/><rect x="867.52" y="444.20" width="10.8" height="17.2" rx="4.3" ry="5.8"/>
<rect x="883.50" y="441.00" width="4" height="20" fill-opacity="0.55"/><rect x="880.10" y="442.20" width="10.8" height="17.2" rx="4.3" ry="5.8"/>
<rect x="896.09" y="442.50" width="4" height="20" fill-opacity="0.55"/><rect x="892.69" y="443.70" width="10.8" height="17.2" rx="4.3" ry="5.8"/>
<rect x="908.67" y="441.20" width="4" height="20" fill-opacity="0.55"/><rect x="905.27" y="442.40" width="10.8" height="17.2" rx="4.3" ry="5.8"/>
<rect x="921.25" y="441.20" width="4" height="20" fill-opacity="0.55"/><rect x="917.86" y="442.40" width="10.8" height="17.2" rx="4.3" ry="5.8"/>
<rect x="933.84" y="409.60" width="4" height="20" fill-opacity="0.55"/><rect x="930.44" y="410.80" width="10.8" height="17.2" rx="4.3" ry="5.8"/>
<rect x="946.43" y="441.00" width="4" height="20" fill-opacity="0.55"/><rect x="943.03" y="442.20" width="10.8" height="17.2" rx="4.3" ry="5.8"/>
<rect x="959.01" y="434.00" width="4" height="20" fill-opacity="0.55"/><rect x="955.61" y="435.20" width="10.8" height="17.2" rx="4.3" ry="5.8"/>
<rect x="971.60" y="437.90" width="4" height="20" fill-opacity="0.55"/><rect x="968.20" y="439.10" width="10.8" height="17.2" rx="4.3" ry="5.8"/>
<rect x="984.18" y="442.50" width="4" height="20" fill-opacity="0.55"/><rect x="980.78" y="443.70" width="10.8" height="17.2" rx="4.3" ry="5.8"/>
<rect x="996.76" y="440.40" width="4" height="20" fill-opacity="0.55"/><rect x="993.37" y="441.60" width="10.8" height="17.2" rx="4.3" ry="5.8"/>
<rect x="1009.35" y="409.60" width="4" height="20" fill-opacity="0.55"/><rect x="1005.95" y="410.80" width="10.8" height="17.2" rx="4.3" ry="5.8"/>
<rect x="1021.94" y="441.70" width="4" height="20" fill-opacity="0.55"/><rect x="1018.54" y="442.90" width="10.8" height="17.2" rx="4.3" ry="5.8"/>
<rect x="1034.52" y="425.00" width="4" height="20" fill-opacity="0.55"/><rect x="1031.12" y="426.20" width="10.8" height="17.2" rx="4.3" ry="5.8"/>
<rect x="1047.11" y="443.00" width="4" height="20" fill-opacity="0.55"/><rect x="1043.70" y="444.20" width="10.8" height="17.2" rx="4.3" ry="5.8"/>
<rect x="1059.69" y="437.90" width="4" height="20" fill-opacity="0.55"/><rect x="1056.29" y="439.10" width="10.8" height="17.2" rx="4.3" ry="5.8"/>
<rect x="1072.28" y="426.30" width="4" height="20" fill-opacity="0.55"/><rect x="1068.88" y="427.50" width="10.8" height="17.2" rx="4.3" ry="5.8"/>
<rect x="1084.86" y="401.90" width="4" height="20" fill-opacity="0.55"/><rect x="1081.46" y="403.10" width="10.8" height="17.2" rx="4.3" ry="5.8"/>
<rect x="1097.45" y="435.30" width="4" height="20" fill-opacity="0.55"/><rect x="1094.05" y="436.50" width="10.8" height="17.2" rx="4.3" ry="5.8"/>
<rect x="1110.03" y="422.50" width="4" height="20" fill-opacity="0.55"/><rect x="1106.63" y="423.70" width="10.8" height="17.2" rx="4.3" ry="5.8"/>
<rect x="1122.62" y="404.50" width="4" height="20" fill-opacity="0.55"/><rect x="1119.21" y="405.70" width="10.8" height="17.2" rx="4.3" ry="5.8"/>
<rect x="1135.20" y="435.30" width="4" height="20" fill-opacity="0.55"/><rect x="1131.80" y="436.50" width="10.8" height="17.2" rx="4.3" ry="5.8"/>
<rect x="1147.79" y="425.50" width="4" height="20" fill-opacity="0.55"/><rect x="1144.38" y="426.70" width="10.8" height="17.2" rx="4.3" ry="5.8"/>
<rect x="1160.37" y="444.30" width="4" height="20" fill-opacity="0.55"/><rect x="1156.97" y="445.50" width="10.8" height="17.2" rx="4.3" ry="5.8"/>
<rect x="1172.96" y="408.30" width="4" height="20" fill-opacity="0.55"/><rect x="1169.56" y="409.50" width="10.8" height="17.2" rx="4.3" ry="5.8"/>
<rect x="1185.54" y="425.00" width="4" height="20" fill-opacity="0.55"/><rect x="1182.14" y="426.20" width="10.8" height="17.2" rx="4.3" ry="5.8"/>
<rect x="1198.13" y="404.50" width="4" height="20" fill-opacity="0.55"/><rect x="1194.73" y="405.70" width="10.8" height="17.2" rx="4.3" ry="5.8"/>
<rect x="1210.71" y="445.60" width="4" height="20" fill-opacity="0.55"/><rect x="1207.31" y="446.80" width="10.8" height="17.2" rx="4.3" ry="5.8"/>
<rect x="1223.30" y="416.00" width="4" height="20" fill-opacity="0.55"/><rect x="1219.89" y="417.20" width="10.8" height="17.2" rx="4.3" ry="5.8"/>
<rect x="1235.88" y="413.50" width="4" height="20" fill-opacity="0.55"/><rect x="1232.48" y="414.70" width="10.8" height="17.2" rx="4.3" ry="5.8"/>
<rect x="1248.47" y="440.40" width="4" height="20" fill-opacity="0.55"/><rect x="1245.07" y="441.60" width="10.8" height="17.2" rx="4.3" ry="5.8"/>
<rect x="1261.05" y="421.20" width="4" height="20" fill-opacity="0.55"/><rect x="1257.65" y="422.40" width="10.8" height="17.2" rx="4.3" ry="5.8"/>
<rect x="1273.64" y="441.70" width="4" height="20" fill-opacity="0.55"/><rect x="1270.24" y="442.90" width="10.8" height="17.2" rx="4.3" ry="5.8"/>
<rect x="1286.22" y="426.30" width="4" height="20" fill-opacity="0.55"/><rect x="1282.82" y="427.50" width="10.8" height="17.2" rx="4.3" ry="5.8"/>
<rect x="1298.81" y="446.90" width="4" height="20" fill-opacity="0.55"/><rect x="1295.40" y="448.10" width="10.8" height="17.2" rx="4.3" ry="5.8"/>
<rect x="1311.39" y="409.60" width="4" height="20" fill-opacity="0.55"/><rect x="1307.99" y="410.80" width="10.8" height="17.2" rx="4.3" ry="5.8"/>
<rect x="1323.98" y="400.60" width="4" height="20" fill-opacity="0.55"/><rect x="1320.58" y="401.80" width="10.8" height="17.2" rx="4.3" ry="5.8"/>
<rect x="1336.56" y="419.90" width="4" height="20" fill-opacity="0.55"/><rect x="1333.16" y="421.10" width="10.8" height="17.2" rx="4.3" ry="5.8"/>
<rect x="1349.15" y="425.00" width="4" height="20" fill-opacity="0.55"/><rect x="1345.75" y="426.20" width="10.8" height="17.2" rx="4.3" ry="5.8"/>
<rect x="1361.73" y="434.00" width="4" height="20" fill-opacity="0.55"/><rect x="1358.33" y="435.20" width="10.8" height="17.2" rx="4.3" ry="5.8"/>
<rect x="1374.32" y="430.20" width="4" height="20" fill-opacity="0.55"/><rect x="1370.92" y="431.40" width="10.8" height="17.2" rx="4.3" ry="5.8"/>
<rect x="1386.90" y="427.60" width="4" height="20" fill-opacity="0.55"/><rect x="1383.50" y="428.80" width="10.8" height="17.2" rx="4.3" ry="5.8"/>
<rect x="1399.49" y="419.90" width="4" height="20" fill-opacity="0.55"/><rect x="1396.09" y="421.10" width="10.8" height="17.2" rx="4.3" ry="5.8"/>
</g>
<rect x="1108.30" y="80.90" width="348.00" height="56.70" rx="4" ry="6.5" fill="#fff" fill-opacity="0.8" stroke="#d3d3d3" stroke-width="1.6"/>
<g transform="scale(1.75,2.9)">
<line x1="636.457" y1="36.966" x2="658.000" y2="36.966" stroke="#1f77b4" stroke-width="1.5"/>
</g>
<rect x="1130.90" y="97.20" width="4" height="20" fill-opacity="0.55" fill="#1f77b4"/><rect x="1127.50" y="98.40" width="10.8" height="17.2" rx="4.3" ry="5.8" fill="#1f77b4"/>
<g transform="scale(1.75,2.9)">
<line x1="690.057" y1="36.966" x2="711.714" y2="36.966" stroke="#ff7f0e" stroke-width="1.5"/>
</g>
<rect x="1224.80" y="97.20" width="4" height="20" fill-opacity="0.55" fill="#ff7f0e"/><rect x="1221.40" y="98.40" width="10.8" height="17.2" rx="4.3" ry="5.8" fill="#ff7f0e"/>
<g transform="scale(1.75,2.9)">
<line x1="744.457" y1="36.966" x2="766.057" y2="36.966" stroke="#2ca02c" stroke-width="1.5"/>
</g>
<rect x="1320.20" y="97.20" width="4" height="20" fill-opacity="0.55" fill="#2ca02c"/><rect x="1316.80" y="98.40" width="10.8" height="17.2" rx="4.3" ry="5.8" fill="#2ca02c"/>
<text transform="translate(1164.63,118.20) scale(0.5184,1)" font-size="32.20" fill="#000">Y</text>
<text transform="translate(1257.90,118.20) scale(0.5578,1)" font-size="32.20" fill="#000">X</text>
<text transform="translate(1352.20,118.20) scale(0.6008,1)" font-size="32.40" fill="#000">Frame-rate</text>
<text transform="translate(684.71,540.00) scale(0.6648,1)" font-size="25.30" font-weight="bold" fill="#000">Gradient - y(predict)</text>
<rect x="65.85" y="558.65" width="1400.20" height="2.30" fill="#000"/>
<rect x="65.85" y="969.05" width="1400.20" height="2.30" fill="#000"/>
<rect x="65.85" y="558.65" width="1.30" height="412.70" fill="#000"/>
<rect x="1464.75" y="558.65" width="1.30" height="412.70" fill="#000"/>
<rect x="60.00" y="626.20" width="6.50" height="2.00" fill="#000"/>
<text transform="translate(11.57,634.95) scale(0.5360,1)" font-size="25.10" fill="#000">0.1300</text>
<rect x="60.00" y="700.90" width="6.50" height="2.00" fill="#000"/>
<text transform="translate(11.57,709.65) scale(0.5366,1)" font-size="25.10" fill="#000">0.1275</text>
<rect x="60.00" y="775.40" width="6.50" height="2.00" fill="#000"/>
<text transform="translate(11.57,784.15) scale(0.5360,1)" font-size="25.10" fill="#000">0.1250</text>
<rect x="60.00" y="849.80" width="6.50" height="2.00" fill="#000"/>
<text transform="translate(11.57,858.55) scale(0.5366,1)" font-size="25.10" fill="#000">0.1225</text>
<rect x="60.00" y="924.30" width="6.50" height="2.00" fill="#000"/>
<text transform="translate(11.57,933.05) scale(0.5360,1)" font-size="25.10" fill="#000">0.1200</text>
<rect x="256.80" y="970.20" width="1.40" height="12.30" fill="#000"/>
<rect x="239.92" y="1003.35" width="7.60" height="1.90" fill="#000"/>
<text transform="translate(248.03,1011.75) scale(0.5000,1)" font-size="25.10" fill="#000">0.04</text>
<rect x="511.00" y="970.20" width="1.40" height="12.30" fill="#000"/>
<rect x="494.25" y="1003.35" width="7.60" height="1.90" fill="#000"/>
<text transform="translate(502.36,1011.75) scale(0.5000,1)" font-size="25.10" fill="#000">0.02</text>
<rect x="765.20" y="970.20" width="1.40" height="12.30" fill="#000"/>
<text transform="translate(753.39,1011.75) scale(0.5000,1)" font-size="25.10" fill="#000">0.00</text>
<rect x="1019.40" y="970.20" width="1.40" height="12.30" fill="#000"/>
<text transform="translate(1007.66,1011.75) scale(0.5000,1)" font-size="25.10" fill="#000">0.02</text>
<rect x="1273.60" y="970.20" width="1.40" height="12.30" fill="#000"/>
<text transform="translate(1261.73,1011.75) scale(0.5000,1)" font-size="25.10" fill="#000">0.04</text>
<text transform="translate(66.02,1010.10) scale(0.5708,1)" font-size="35.00" fill="#000">frame</text>
<rect x="763.95" y="755.00" width="4" height="20" fill-opacity="0.55" fill="#1f77b4"/><rect x="760.55" y="756.20" width="10.8" height="17.2" rx="4.3" ry="5.8" fill="#1f77b4"/>
<rect x="1313.60" y="575.00" width="142.50" height="57.20" rx="4" ry="6.5" fill="#fff" fill-opacity="0.8" stroke="#d3d3d3" stroke-width="1.6"/>
<g transform="scale(1.75,2.9)">
<line x1="753.943" y1="207.345" x2="774.686" y2="207.345" stroke="#1f77b4" stroke-width="1.5"/>
</g>
<rect x="1336.90" y="591.30" width="4" height="20" fill-opacity="0.55" fill="#1f77b4"/><rect x="1333.50" y="592.50" width="10.8" height="17.2" rx="4.3" ry="5.8" fill="#1f77b4"/>
<text transform="translate(1370.05,612.70) scale(0.5759,1)" font-size="33.50" fill="#000">y_predict</text>
<text transform="translate(703.41,1034.70) scale(0.6668,1)" font-size="25.30" font-weight="bold" fill="#000">Gradient - error</text>
<rect x="65.85" y="1052.85" width="1400.00" height="2.30" fill="#000"/>
<rect x="65.85" y="1463.45" width="1400.00" height="2.30" fill="#000"/>
<rect x="65.85" y="1052.85" width="1.30" height="412.90" fill="#000"/>
<rect x="1464.55" y="1052.85" width="1.30" height="412.90" fill="#000"/>
<rect x="60.00" y="1061.90" width="6.50" height="2.00" fill="#000"/>
<rect x="60.00" y="1166.00" width="6.50" height="2.00" fill="#000"/>
<rect x="60.00" y="1269.80" width="6.50" height="2.00" fill="#000"/>
<rect x="60.00" y="1375.80" width="6.50" height="2.00" fill="#000"/>
<text transform="translate(46.04,1070.35) scale(0.5667,1)" font-size="25.10" fill="#000">0</text>
<rect x="22.10" y="1168.25" width="7.60" height="1.90" fill="#000"/>
<text transform="translate(30.16,1176.65) scale(0.5339,1)" font-size="25.10" fill="#000">500</text>
<rect x="14.10" y="1272.15" width="7.60" height="1.90" fill="#000"/>
<text transform="translate(21.64,1280.55) scale(0.5534,1)" font-size="25.10" fill="#000">1000</text>
<rect x="14.10" y="1375.85" width="7.60" height="1.90" fill="#000"/>
<text transform="translate(21.64,1384.25) scale(0.5534,1)" font-size="25.10" fill="#000">1500</text>
<rect x="129.70" y="1464.60" width="1.40" height="12.30" fill="#000"/>
<text transform="translate(126.41,1506.45) scale(0.5000,1)" font-size="25.10" fill="#000">0</text>
<rect x="381.40" y="1464.60" width="1.40" height="12.30" fill="#000"/>
<text transform="translate(374.55,1506.45) scale(0.5000,1)" font-size="25.10" fill="#000">20</text>
<rect x="633.10" y="1464.60" width="1.40" height="12.30" fill="#000"/>
<text transform="translate(626.42,1506.45) scale(0.5000,1)" font-size="25.10" fill="#000">40</text>
<rect x="884.80" y="1464.60" width="1.40" height="12.30" fill="#000"/>
<text transform="translate(877.95,1506.45) scale(0.5000,1)" font-size="25.10" fill="#000">60</text>
<rect x="1136.50" y="1464.60" width="1.40" height="12.30" fill="#000"/>
<text transform="translate(1129.69,1506.45) scale(0.5000,1)" font-size="25.10" fill="#000">80</text>
<rect x="1388.20" y="1464.60" width="1.40" height="12.30" fill="#000"/>
<text transform="translate(1377.70,1506.45) scale(0.5000,1)" font-size="25.10" fill="#000">100</text>
<text transform="translate(65.92,1504.00) scale(0.5663,1)" font-size="35.00" fill="#000">frame</text>
<g transform="scale(1.75,2.9)">
<polyline points="74.51,454.97 81.71,449.48 88.90,427.69 96.09,434.62 103.28,439.48 110.47,439.48 117.66,437.10 124.85,448.34 132.05,451.90 139.24,451.90 146.43,455.86 153.62,449.66 160.81,457.38 168.00,446.31 175.19,438.62 182.39,446.31 189.58,451.90 196.77,455.86 203.96,454.28 211.15,457.38 218.34,442.14 225.53,445.69 232.73,442.31 239.92,441.00 247.11,440.38 254.30,437.90 261.49,442.59 268.68,440.38 275.87,447.17 283.07,448.07 290.26,448.79 297.45,445.69 304.64,445.86 311.83,450.55 319.02,437.72 326.21,436.38 333.41,439.48 340.60,448.79 347.79,446.55 354.98,438.14 362.17,441.24 369.36,441.86 376.55,443.45 383.75,435.31 390.94,434.62 398.13,442.59 405.32,437.28 412.51,433.90 419.70,436.38 426.89,398.72 434.09,397.59 441.28,394.31 448.47,392.55 455.66,396.52 462.85,393.45 470.04,392.10 477.23,404.48 484.43,393.45 491.62,395.83 498.81,406.72 506.00,394.31 513.19,401.14 520.38,402.72 527.57,411.59 534.77,391.21 541.96,395.62 549.15,417.79 556.34,416.00 563.53,394.31 570.72,397.41 577.91,400.00 585.11,404.48 592.30,425.31 599.49,390.31 606.68,394.31 613.87,410.69 621.06,417.79 628.25,416.90 635.45,421.76 642.64,423.10 649.83,432.76 657.02,441.69 664.21,441.24 671.40,442.41 678.59,420.62 685.79,443.90 692.98,437.28 700.17,427.07 707.36,429.31 714.55,417.34 721.74,424.41 728.93,372.93 736.13,399.62 743.32,408.03 750.51,374.38 757.70,373.93 764.89,382.34 772.08,396.52 779.27,382.79 786.47,401.38 793.66,392.55 800.85,402.72" fill="none" stroke="#1f77b4" stroke-width="1.5" stroke-linejoin="round" stroke-linecap="butt"/>
</g>
<g fill="#1f77b4">
<rect x="128.40" y="1309.40" width="4" height="20" fill-opacity="0.55"/><rect x="125.00" y="1310.60" width="10.8" height="17.2" rx="4.3" ry="5.8"/>
<rect x="140.99" y="1293.50" width="4" height="20" fill-opacity="0.55"/><rect x="137.59" y="1294.70" width="10.8" height="17.2" rx="4.3" ry="5.8"/>
<rect x="153.57" y="1230.30" width="4" height="20" fill-opacity="0.55"/><rect x="150.17" y="1231.50" width="10.8" height="17.2" rx="4.3" ry="5.8"/>
<rect x="166.16" y="1250.40" width="4" height="20" fill-opacity="0.55"/><rect x="162.75" y="1251.60" width="10.8" height="17.2" rx="4.3" ry="5.8"/>
<rect x="178.74" y="1264.50" width="4" height="20" fill-opacity="0.55"/><rect x="175.34" y="1265.70" width="10.8" height="17.2" rx="4.3" ry="5.8"/>
<rect x="191.33" y="1264.50" width="4" height="20" fill-opacity="0.55"/><rect x="187.93" y="1265.70" width="10.8" height="17.2" rx="4.3" ry="5.8"/>
<rect x="203.91" y="1257.60" width="4" height="20" fill-opacity="0.55"/><rect x="200.51" y="1258.80" width="10.8" height="17.2" rx="4.3" ry="5.8"/>
<rect x="216.50" y="1290.20" width="4" height="20" fill-opacity="0.55"/><rect x="213.09" y="1291.40" width="10.8" height="17.2" rx="4.3" ry="5.8"/>
<rect x="229.08" y="1300.50" width="4" height="20" fill-opacity="0.55"/><rect x="225.68" y="1301.70" width="10.8" height="17.2" rx="4.3" ry="5.8"/>
<rect x="241.67" y="1300.50" width="4" height="20" fill-opacity="0.55"/><rect x="238.27" y="1301.70" width="10.8" height="17.2" rx="4.3" ry="5.8"/>
<rect x="254.25" y="1312.00" width="4" height="20" fill-opacity="0.55"/><rect x="250.85" y="1313.20" width="10.8" height="17.2" rx="4.3" ry="5.8"/>
<rect x="266.84" y="1294.00" width="4" height="20" fill-opacity="0.55"/><rect x="263.44" y="1295.20" width="10.8" height="17.2" rx="4.3" ry="5.8"/>
<rect x="279.42" y="1316.40" width="4" height="20" fill-opacity="0.55"/><rect x="276.02" y="1317.60" width="10.8" height="17.2" rx="4.3" ry="5.8"/>
<rect x="292.00" y="1284.30" width="4" height="20" fill-opacity="0.55"/><rect x="288.61" y="1285.50" width="10.8" height="17.2" rx="4.3" ry="5.8"/>
<rect x="304.59" y="1262.00" width="4" height="20" fill-opacity="0.55"/><rect x="301.19" y="1263.20" width="10.8" height="17.2" rx="4.3" ry="5.8"/>
<rect x="317.18" y="1284.30" width="4" height="20" fill-opacity="0.55"/><rect x="313.78" y="1285.50" width="10.8" height="17.2" rx="4.3" ry="5.8"/>
<rect x="329.76" y="1300.50" width="4" height="20" fill-opacity="0.55"/><rect x="326.36" y="1301.70" width="10.8" height="17.2" rx="4.3" ry="5.8"/>
<rect x="342.35" y="1312.00" width="4" height="20" fill-opacity="0.55"/><rect x="338.95" y="1313.20" width="10.8" height="17.2" rx="4.3" ry="5.8"/>
<rect x="354.93" y="1307.40" width="4" height="20" fill-opacity="0.55"/><rect x="351.53" y="1308.60" width="10.8" height="17.2" rx="4.3" ry="5.8"/>
<rect x="367.51" y="1316.40" width="4" height="20" fill-opacity="0.55"/><rect x="364.12" y="1317.60" width="10.8" height="17.2" rx="4.3" ry="5.8"/>
<rect x="380.10" y="1272.20" width="4" height="20" fill-opacity="0.55"/><rect x="376.70" y="1273.40" width="10.8" height="17.2" rx="4.3" ry="5.8"/>
<rect x="392.69" y="1282.50" width="4" height="20" fill-opacity="0.55"/><rect x="389.29" y="1283.70" width="10.8" height="17.2" rx="4.3" ry="5.8"/>
<rect x="405.27" y="1272.70" width="4" height="20" fill-opacity="0.55"/><rect x="401.87" y="1273.90" width="10.8" height="17.2" rx="4.3" ry="5.8"/>
<rect x="417.86" y="1268.90" width="4" height="20" fill-opacity="0.55"/><rect x="414.46" y="1270.10" width="10.8" height="17.2" rx="4.3" ry="5.8"/>
<rect x="430.44" y="1267.10" width="4" height="20" fill-opacity="0.55"/><rect x="427.04" y="1268.30" width="10.8" height="17.2" rx="4.3" ry="5.8"/>
<rect x="443.02" y="1259.90" width="4" height="20" fill-opacity="0.55"/><rect x="439.62" y="1261.10" width="10.8" height="17.2" rx="4.3" ry="5.8"/>
<rect x="455.61" y="1273.50" width="4" height="20" fill-opacity="0.55"/><rect x="452.21" y="1274.70" width="10.8" height="17.2" rx="4.3" ry="5.8"/>
<rect x="468.20" y="1267.10" width="4" height="20" fill-opacity="0.55"/><rect x="464.80" y="1268.30" width="10.8" height="17.2" rx="4.3" ry="5.8"/>
<rect x="480.78" y="1286.80" width="4" height="20" fill-opacity="0.55"/><rect x="477.38" y="1288.00" width="10.8" height="17.2" rx="4.3" ry="5.8"/>
<rect x="493.37" y="1289.40" width="4" height="20" fill-opacity="0.55"/><rect x="489.97" y="1290.60" width="10.8" height="17.2" rx="4.3" ry="5.8"/>
<rect x="505.95" y="1291.50" width="4" height="20" fill-opacity="0.55"/><rect x="502.55" y="1292.70" width="10.8" height="17.2" rx="4.3" ry="5.8"/>
<rect x="518.54" y="1282.50" width="4" height="20" fill-opacity="0.55"/><rect x="515.14" y="1283.70" width="10.8" height="17.2" rx="4.3" ry="5.8"/>
<rect x="531.12" y="1283.00" width="4" height="20" fill-opacity="0.55"/><rect x="527.72" y="1284.20" width="10.8" height="17.2" rx="4.3" ry="5.8"/>
<rect x="543.71" y="1296.60" width="4" height="20" fill-opacity="0.55"/><rect x="540.31" y="1297.80" width="10.8" height="17.2" rx="4.3" ry="5.8"/>
<rect x="556.29" y="1259.40" width="4" height="20" fill-opacity="0.55"/><rect x="552.89" y="1260.60" width="10.8" height="17.2" rx="4.3" ry="5.8"/>
<rect x="568.88" y="1255.50" width="4" height="20" fill-opacity="0.55"/><rect x="565.48" y="1256.70" width="10.8" height="17.2" rx="4.3" ry="5.8"/>
<rect x="581.46" y="1264.50" width="4" height="20" fill-opacity="0.55"/><rect x="578.06" y="1265.70" width="10.8" height="17.2" rx="4.3" ry="5.8"/>
<rect x="594.05" y="1291.50" width="4" height="20" fill-opacity="0.55"/><rect x="590.65" y="1292.70" width="10.8" height="17.2" rx="4.3" ry="5.8"/>
<rect x="606.63" y="1285.00" width="4" height="20" fill-opacity="0.55"/><rect x="603.23" y="1286.20" width="10.8" height="17.2" rx="4.3" ry="5.8"/>
<rect x="619.22" y="1260.60" width="4" height="20" fill-opacity="0.55"/><rect x="615.82" y="1261.80" width="10.8" height="17.2" rx="4.3" ry="5.8"/>
<rect x="631.80" y="1269.60" width="4" height="20" fill-opacity="0.55"/><rect x="628.40" y="1270.80" width="10.8" height="17.2" rx="4.3" ry="5.8"/>
<rect x="644.38" y="1271.40" width="4" height="20" fill-opacity="0.55"/><rect x="640.99" y="1272.60" width="10.8" height="17.2" rx="4.3" ry="5.8"/>
<rect x="656.97" y="1276.00" width="4" height="20" fill-opacity="0.55"/><rect x="653.57" y="1277.20" width="10.8" height="17.2" rx="4.3" ry="5.8"/>
<rect x="669.56" y="1252.40" width="4" height="20" fill-opacity="0.55"/><rect x="666.16" y="1253.60" width="10.8" height="17.2" rx="4.3" ry="5.8"/>
<rect x="682.14" y="1250.40" width="4" height="20" fill-opacity="0.55"/><rect x="678.74" y="1251.60" width="10.8" height="17.2" rx="4.3" ry="5.8"/>
<rect x="694.73" y="1273.50" width="4" height="20" fill-opacity="0.55"/><rect x="691.33" y="1274.70" width="10.8" height="17.2" rx="4.3" ry="5.8"/>
<rect x="707.31" y="1258.10" width="4" height="20" fill-opacity="0.55"/><rect x="703.91" y="1259.30" width="10.8" height="17.2" rx="4.3" ry="5.8"/>
<rect x="719.89" y="1248.30" width="4" height="20" fill-opacity="0.55"/><rect x="716.50" y="1249.50" width="10.8" height="17.2" rx="4.3" ry="5.8"/>
<rect x="732.48" y="1255.50" width="4" height="20" fill-opacity="0.55"/><rect x="729.08" y="1256.70" width="10.8" height="17.2" rx="4.3" ry="5.8"/>
<rect x="745.07" y="1146.30" width="4" height="20" fill-opacity="0.55"/><rect x="741.67" y="1147.50" width="10.8" height="17.2" rx="4.3" ry="5.8"/>
<rect x="757.65" y="1143.00" width="4" height="20" fill-opacity="0.55"/><rect x="754.25" y="1144.20" width="10.8" height="17.2" rx="4.3" ry="5.8"/>
<rect x="770.24" y="1133.50" width="4" height="20" fill-opacity="0.55"/><rect x="766.84" y="1134.70" width="10.8" height="17.2" rx="4.3" ry="5.8"/>
<rect x="782.82" y="1128.40" width="4" height="20" fill-opacity="0.55"/><rect x="779.42" y="1129.60" width="10.8" height="17.2" rx="4.3" ry="5.8"/>
<rect x="795.40" y="1139.90" width="4" height="20" fill-opacity="0.55"/><rect x="792.00" y="1141.10" width="10.8" height="17.2" rx="4.3" ry="5.8"/>
<rect x="807.99" y="1131.00" width="4" height="20" fill-opacity="0.55"/><rect x="804.59" y="1132.20" width="10.8" height="17.2" rx="4.3" ry="5.8"/>
<rect x="820.58" y="1127.10" width="4" height="20" fill-opacity="0.55"/><rect x="817.18" y="1128.30" width="10.8" height="17.2" rx="4.3" ry="5.8"/>
<rect x="833.16" y="1163.00" width="4" height="20" fill-opacity="0.55"/><rect x="829.76" y="1164.20" width="10.8" height="17.2" rx="4.3" ry="5.8"/>
<rect x="845.75" y="1131.00" width="4" height="20" fill-opacity="0.55"/><rect x="842.35" y="1132.20" width="10.8" height="17.2" rx="4.3" ry="5.8"/>
<rect x="858.33" y="1137.90" width="4" height="20" fill-opacity="0.55"/><rect x="854.93" y="1139.10" width="10.8" height="17.2" rx="4.3" ry="5.8"/>
<rect x="870.92" y="1169.50" width="4" height="20" fill-opacity="0.55"/><rect x="867.52" y="1170.70" width="10.8" height="17.2" rx="4.3" ry="5.8"/>
<rect x="883.50" y="1133.50" width="4" height="20" fill-opacity="0.55"/><rect x="880.10" y="1134.70" width="10.8" height="17.2" rx="4.3" ry="5.8"/>
<rect x="896.09" y="1153.30" width="4" height="20" fill-opacity="0.55"/><rect x="892.69" y="1154.50" width="10.8" height="17.2" rx="4.3" ry="5.8"/>
<rect x="908.67" y="1157.90" width="4" height="20" fill-opacity="0.55"/><rect x="905.27" y="1159.10" width="10.8" height="17.2" rx="4.3" ry="5.8"/>
<rect x="921.25" y="1183.60" width="4" height="20" fill-opacity="0.55"/><rect x="917.86" y="1184.80" width="10.8" height="17.2" rx="4.3" ry="5.8"/>
<rect x="933.84" y="1124.50" width="4" height="20" fill-opacity="0.55"/><rect x="930.44" y="1125.70" width="10.8" height="17.2" rx="4.3" ry="5.8"/>
<rect x="946.43" y="1137.30" width="4" height="20" fill-opacity="0.55"/><rect x="943.03" y="1138.50" width="10.8" height="17.2" rx="4.3" ry="5.8"/>
<rect x="959.01" y="1201.60" width="4" height="20" fill-opacity="0.55"/><rect x="955.61" y="1202.80" width="10.8" height="17.2" rx="4.3" ry="5.8"/>
<rect x="971.60" y="1196.40" width="4" height="20" fill-opacity="0.55"/><rect x="968.20" y="1197.60" width="10.8" height="17.2" rx="4.3" ry="5.8"/>
<rect x="984.18" y="1133.50" width="4" height="20" fill-opacity="0.55"/><rect x="980.78" y="1134.70" width="10.8" height="17.2" rx="4.3" ry="5.8"/>
<rect x="996.76" y="1142.50" width="4" height="20" fill-opacity="0.55"/><rect x="993.37" y="1143.70" width="10.8" height="17.2" rx="4.3" ry="5.8"/>
<rect x="1009.35" y="1150.00" width="4" height="20" fill-opacity="0.55"/><rect x="1005.95" y="1151.20" width="10.8" height="17.2" rx="4.3" ry="5.8"/>
<rect x="1021.94" y="1163.00" width="4" height="20" fill-opacity="0.55"/><rect x="1018.54" y="1164.20" width="10.8" height="17.2" rx="4.3" ry="5.8"/>
<rect x="1034.52" y="1223.40" width="4" height="20" fill-opacity="0.55"/><rect x="1031.12" y="1224.60" width="10.8" height="17.2" rx="4.3" ry="5.8"/>
<rect x="1047.11" y="1121.90" width="4" height="20" fill-opacity="0.55"/><rect x="1043.70" y="1123.10" width="10.8" height="17.2" rx="4.3" ry="5.8"/>
<rect x="1059.69" y="1133.50" width="4" height="20" fill-opacity="0.55"/><rect x="1056.29" y="1134.70" width="10.8" height="17.2" rx="4.3" ry="5.8"/>
<rect x="1072.28" y="1181.00" width="4" height="20" fill-opacity="0.55"/><rect x="1068.88" y="1182.20" width="10.8" height="17.2" rx="4.3" ry="5.8"/>
<rect x="1084.86" y="1201.60" width="4" height="20" fill-opacity="0.55"/><rect x="1081.46" y="1202.80" width="10.8" height="17.2" rx="4.3" ry="5.8"/>
<rect x="1097.45" y="1199.00" width="4" height="20" fill-opacity="0.55"/><rect x="1094.05" y="1200.20" width="10.8" height="17.2" rx="4.3" ry="5.8"/>
<rect x="1110.03" y="1213.10" width="4" height="20" fill-opacity="0.55"/><rect x="1106.63" y="1214.30" width="10.8" height="17.2" rx="4.3" ry="5.8"/>
<rect x="1122.62" y="1217.00" width="4" height="20" fill-opacity="0.55"/><rect x="1119.21" y="1218.20" width="10.8" height="17.2" rx="4.3" ry="5.8"/>
<rect x="1135.20" y="1245.00" width="4" height="20" fill-opacity="0.55"/><rect x="1131.80" y="1246.20" width="10.8" height="17.2" rx="4.3" ry="5.8"/>
<rect x="1147.79" y="1270.90" width="4" height="20" fill-opacity="0.55"/><rect x="1144.38" y="1272.10" width="10.8" height="17.2" rx="4.3" ry="5.8"/>
<rect x="1160.37" y="1269.60" width="4" height="20" fill-opacity="0.55"/><rect x="1156.97" y="1270.80" width="10.8" height="17.2" rx="4.3" ry="5.8"/>
<rect x="1172.96" y="1273.00" width="4" height="20" fill-opacity="0.55"/><rect x="1169.56" y="1274.20" width="10.8" height="17.2" rx="4.3" ry="5.8"/>
<rect x="1185.54" y="1209.80" width="4" height="20" fill-opacity="0.55"/><rect x="1182.14" y="1211.00" width="10.8" height="17.2" rx="4.3" ry="5.8"/>
<rect x="1198.13" y="1277.30" width="4" height="20" fill-opacity="0.55"/><rect x="1194.73" y="1278.50" width="10.8" height="17.2" rx="4.3" ry="5.8"/>
<rect x="1210.71" y="1258.10" width="4" height="20" fill-opacity="0.55"/><rect x="1207.31" y="1259.30" width="10.8" height="17.2" rx="4.3" ry="5.8"/>
<rect x="1223.30" y="1228.50" width="4" height="20" fill-opacity="0.55"/><rect x="1219.89" y="1229.70" width="10.8" height="17.2" rx="4.3" ry="5.8"/>
<rect x="1235.88" y="1235.00" width="4" height="20" fill-opacity="0.55"/><rect x="1232.48" y="1236.20" width="10.8" height="17.2" rx="4.3" ry="5.8"/>
<rect x="1248.47" y="1200.30" width="4" height="20" fill-opacity="0.55"/><rect x="1245.07" y="1201.50" width="10.8" height="17.2" rx="4.3" ry="5.8"/>
<rect x="1261.05" y="1220.80" width="4" height="20" fill-opacity="0.55"/><rect x="1257.65" y="1222.00" width="10.8" height="17.2" rx="4.3" ry="5.8"/>
<rect x="1273.64" y="1071.50" width="4" height="20" fill-opacity="0.55"/><rect x="1270.24" y="1072.70" width="10.8" height="17.2" rx="4.3" ry="5.8"/>
<rect x="1286.22" y="1148.90" width="4" height="20" fill-opacity="0.55"/><rect x="1282.82" y="1150.10" width="10.8" height="17.2" rx="4.3" ry="5.8"/>
<rect x="1298.81" y="1173.30" width="4" height="20" fill-opacity="0.55"/><rect x="1295.40" y="1174.50" width="10.8" height="17.2" rx="4.3" ry="5.8"/>
<rect x="1311.39" y="1075.70" width="4" height="20" fill-opacity="0.55"/><rect x="1307.99" y="1076.90" width="10.8" height="17.2" rx="4.3" ry="5.8"/>
<rect x="1323.98" y="1074.40" width="4" height="20" fill-opacity="0.55"/><rect x="1320.58" y="1075.60" width="10.8" height="17.2" rx="4.3" ry="5.8"/>
<rect x="1336.56" y="1098.80" width="4" height="20" fill-opacity="0.55"/><rect x="1333.16" y="1100.00" width="10.8" height="17.2" rx="4.3" ry="5.8"/>
<rect x="1349.15" y="1139.90" width="4" height="20" fill-opacity="0.55"/><rect x="1345.75" y="1141.10" width="10.8" height="17.2" rx="4.3" ry="5.8"/>
<rect x="1361.73" y="1100.10" width="4" height="20" fill-opacity="0.55"/><rect x="1358.33" y="1101.30" width="10.8" height="17.2" rx="4.3" ry="5.8"/>
<rect x="1374.32" y="1154.00" width="4" height="20" fill-opacity="0.55"/><rect x="1370.92" y="1155.20" width="10.8" height="17.2" rx="4.3" ry="5.8"/>
<rect x="1386.90" y="1128.40" width="4" height="20" fill-opacity="0.55"/><rect x="1383.50" y="1129.60" width="10.8" height="17.2" rx="4.3" ry="5.8"/>
<rect x="1399.49" y="1157.90" width="4" height="20" fill-opacity="0.55"/><rect x="1396.09" y="1159.10" width="10.8" height="17.2" rx="4.3" ry="5.8"/>
</g>
<g transform="scale(1.75,2.9)">
<polyline points="74.51,436.38 81.71,442.31 88.90,499.28 96.09,398.72 103.28,403.62 110.47,406.00 117.66,409.79 124.85,402.28 132.05,402.28 139.24,391.66 146.43,388.10 153.62,398.72 160.81,393.45 168.00,406.00 175.19,412.21 182.39,400.52 189.58,404.03 196.77,404.93 203.96,402.72 211.15,404.24 218.34,408.10 225.53,408.21 232.73,409.10 239.92,408.21 247.11,412.21 254.30,410.69 261.49,408.21 268.68,415.14 275.87,395.83 283.07,402.00 290.26,387.66 297.45,389.00 304.64,397.41 311.83,396.52 319.02,400.52 326.21,407.59 333.41,400.52 340.60,382.79 347.79,392.55 354.98,404.48 362.17,408.93 369.36,391.21 376.55,392.72 383.75,393.59 390.94,391.21 398.13,395.17 405.32,387.66 412.51,390.31 419.70,389.62 426.89,443.45 434.09,444.17 441.28,451.00 448.47,452.76 455.66,468.28 462.85,441.69 470.04,443.28 477.23,446.55 484.43,449.48 491.62,454.10 498.81,444.17 506.00,442.07 513.19,439.48 520.38,440.38 527.57,442.59 534.77,427.07 541.96,433.28 549.15,440.38 556.34,437.97 563.53,442.59 570.72,444.17 577.91,435.31 585.11,422.66 592.30,416.00 599.49,438.59 606.68,443.45 613.87,441.86 621.06,435.66 628.25,433.28 635.45,429.48 642.64,435.48 649.83,446.31 657.02,442.14 664.21,441.69 671.40,437.28 678.59,442.41 685.79,439.48 692.98,436.83 700.17,451.90 707.36,447.17 714.55,437.72 721.74,434.17 728.93,439.48 736.13,446.55 743.32,458.97 750.51,447.90 757.70,449.48 764.89,449.48 772.08,466.93 779.27,439.93 786.47,444.79 793.66,446.55 800.85,443.45" fill="none" stroke="#ff7f0e" stroke-width="1.5" stroke-linejoin="round" stroke-linecap="butt"/>
</g>
<g fill="#ff7f0e">
<rect x="128.40" y="1255.50" width="4" height="20" fill-opacity="0.55"/><rect x="125.00" y="1256.70" width="10.8" height="17.2" rx="4.3" ry="5.8"/>
<rect x="140.99" y="1272.70" width="4" height="20" fill-opacity="0.55"/><rect x="137.59" y="1273.90" width="10.8" height="17.2" rx="4.3" ry="5.8"/>
<rect x="153.57" y="1437.90" width="4" height="20" fill-opacity="0.55"/><rect x="150.17" y="1439.10" width="10.8" height="17.2" rx="4.3" ry="5.8"/>
<rect x="166.16" y="1146.30" width="4" height="20" fill-opacity="0.55"/><rect x="162.75" y="1147.50" width="10.8" height="17.2" rx="4.3" ry="5.8"/>
<rect x="178.74" y="1160.50" width="4" height="20" fill-opacity="0.55"/><rect x="175.34" y="1161.70" width="10.8" height="17.2" rx="4.3" ry="5.8"/>
<rect x="191.33" y="1167.40" width="4" height="20" fill-opacity="0.55"/><rect x="187.93" y="1168.60" width="10.8" height="17.2" rx="4.3" ry="5.8"/>
<rect x="203.91" y="1178.40" width="4" height="20" fill-opacity="0.55"/><rect x="200.51" y="1179.60" width="10.8" height="17.2" rx="4.3" ry="5.8"/>
<rect x="216.50" y="1156.60" width="4" height="20" fill-opacity="0.55"/><rect x="213.09" y="1157.80" width="10.8" height="17.2" rx="4.3" ry="5.8"/>
<rect x="229.08" y="1156.60" width="4" height="20" fill-opacity="0.55"/><rect x="225.68" y="1157.80" width="10.8" height="17.2" rx="4.3" ry="5.8"/>
<rect x="241.67" y="1125.80" width="4" height="20" fill-opacity="0.55"/><rect x="238.27" y="1127.00" width="10.8" height="17.2" rx="4.3" ry="5.8"/>
<rect x="254.25" y="1115.50" width="4" height="20" fill-opacity="0.55"/><rect x="250.85" y="1116.70" width="10.8" height="17.2" rx="4.3" ry="5.8"/>
<rect x="266.84" y="1146.30" width="4" height="20" fill-opacity="0.55"/><rect x="263.44" y="1147.50" width="10.8" height="17.2" rx="4.3" ry="5.8"/>
<rect x="279.42" y="1131.00" width="4" height="20" fill-opacity="0.55"/><rect x="276.02" y="1132.20" width="10.8" height="17.2" rx="4.3" ry="5.8"/>
<rect x="292.00" y="1167.40" width="4" height="20" fill-opacity="0.55"/><rect x="288.61" y="1168.60" width="10.8" height="17.2" rx="4.3" ry="5.8"/>
<rect x="304.59" y="1185.40" width="4" height="20" fill-opacity="0.55"/><rect x="301.19" y="1186.60" width="10.8" height="17.2" rx="4.3" ry="5.8"/>
<rect x="317.18" y="1151.50" width="4" height="20" fill-opacity="0.55"/><rect x="313.78" y="1152.70" width="10.8" height="17.2" rx="4.3" ry="5.8"/>
<rect x="329.76" y="1161.70" width="4" height="20" fill-opacity="0.55"/><rect x="326.36" y="1162.90" width="10.8" height="17.2" rx="4.3" ry="5.8"/>
<rect x="342.35" y="1164.30" width="4" height="20" fill-opacity="0.55"/><rect x="338.95" y="1165.50" width="10.8" height="17.2" rx="4.3" ry="5.8"/>
<rect x="354.93" y="1157.90" width="4" height="20" fill-opacity="0.55"/><rect x="351.53" y="1159.10" width="10.8" height="17.2" rx="4.3" ry="5.8"/>
<rect x="367.51" y="1162.30" width="4" height="20" fill-opacity="0.55"/><rect x="364.12" y="1163.50" width="10.8" height="17.2" rx="4.3" ry="5.8"/>
<rect x="380.10" y="1173.50" width="4" height="20" fill-opacity="0.55"/><rect x="376.70" y="1174.70" width="10.8" height="17.2" rx="4.3" ry="5.8"/>
<rect x="392.69" y="1173.80" width="4" height="20" fill-opacity="0.55"/><rect x="389.29" y="1175.00" width="10.8" height="17.2" rx="4.3" ry="5.8"/>
<rect x="405.27" y="1176.40" width="4" height="20" fill-opacity="0.55"/><rect x="401.87" y="1177.60" width="10.8" height="17.2" rx="4.3" ry="5.8"/>
<rect x="417.86" y="1173.80" width="4" height="20" fill-opacity="0.55"/><rect x="414.46" y="1175.00" width="10.8" height="17.2" rx="4.3" ry="5.8"/>
<rect x="430.44" y="1185.40" width="4" height="20" fill-opacity="0.55"/><rect x="427.04" y="1186.60" width="10.8" height="17.2" rx="4.3" ry="5.8"/>
<rect x="443.02" y="1181.00" width="4" height="20" fill-opacity="0.55"/><rect x="439.62" y="1182.20" width="10.8" height="17.2" rx="4.3" ry="5.8"/>
<rect x="455.61" y="1173.80" width="4" height="20" fill-opacity="0.55"/><rect x="452.21" y="1175.00" width="10.8" height="17.2" rx="4.3" ry="5.8"/>
<rect x="468.20" y="1193.90" width="4" height="20" fill-opacity="0.55"/><rect x="464.80" y="1195.10" width="10.8" height="17.2" rx="4.3" ry="5.8"/>
<rect x="480.78" y="1137.90" width="4" height="20" fill-opacity="0.55"/><rect x="477.38" y="1139.10" width="10.8" height="17.2" rx="4.3" ry="5.8"/>
<rect x="493.37" y="1155.80" width="4" height="20" fill-opacity="0.55"/><rect x="489.97" y="1157.00" width="10.8" height="17.2" rx="4.3" ry="5.8"/>
<rect x="505.95" y="1114.20" width="4" height="20" fill-opacity="0.55"/><rect x="502.55" y="1115.40" width="10.8" height="17.2" rx="4.3" ry="5.8"/>
<rect x="518.54" y="1118.10" width="4" height="20" fill-opacity="0.55"/><rect x="515.14" y="1119.30" width="10.8" height="17.2" rx="4.3" ry="5.8"/>
<rect x="531.12" y="1142.50" width="4" height="20" fill-opacity="0.55"/><rect x="527.72" y="1143.70" width="10.8" height="17.2" rx="4.3" ry="5.8"/>
<rect x="543.71" y="1139.90" width="4" height="20" fill-opacity="0.55"/><rect x="540.31" y="1141.10" width="10.8" height="17.2" rx="4.3" ry="5.8"/>
<rect x="556.29" y="1151.50" width="4" height="20" fill-opacity="0.55"/><rect x="552.89" y="1152.70" width="10.8" height="17.2" rx="4.3" ry="5.8"/>
<rect x="568.88" y="1172.00" width="4" height="20" fill-opacity="0.55"/><rect x="565.48" y="1173.20" width="10.8" height="17.2" rx="4.3" ry="5.8"/>
<rect x="581.46" y="1151.50" width="4" height="20" fill-opacity="0.55"/><rect x="578.06" y="1152.70" width="10.8" height="17.2" rx="4.3" ry="5.8"/>
<rect x="594.05" y="1100.10" width="4" height="20" fill-opacity="0.55"/><rect x="590.65" y="1101.30" width="10.8" height="17.2" rx="4.3" ry="5.8"/>
<rect x="606.63" y="1128.40" width="4" height="20" fill-opacity="0.55"/><rect x="603.23" y="1129.60" width="10.8" height="17.2" rx="4.3" ry="5.8"/>
<rect x="619.22" y="1163.00" width="4" height="20" fill-opacity="0.55"/><rect x="615.82" y="1164.20" width="10.8" height="17.2" rx="4.3" ry="5.8"/>
<rect x="631.80" y="1175.90" width="4" height="20" fill-opacity="0.55"/><rect x="628.40" y="1177.10" width="10.8" height="17.2" rx="4.3" ry="5.8"/>
<rect x="644.38" y="1124.50" width="4" height="20" fill-opacity="0.55"/><rect x="640.99" y="1125.70" width="10.8" height="17.2" rx="4.3" ry="5.8"/>
<rect x="656.97" y="1128.90" width="4" height="20" fill-opacity="0.55"/><rect x="653.57" y="1130.10" width="10.8" height="17.2" rx="4.3" ry="5.8"/>
<rect x="669.56" y="1131.40" width="4" height="20" fill-opacity="0.55"/><rect x="666.16" y="1132.60" width="10.8" height="17.2" rx="4.3" ry="5.8"/>
<rect x="682.14" y="1124.50" width="4" height="20" fill-opacity="0.55"/><rect x="678.74" y="1125.70" width="10.8" height="17.2" rx="4.3" ry="5.8"/>
<rect x="694.73" y="1136.00" width="4" height="20" fill-opacity="0.55"/><rect x="691.33" y="1137.20" width="10.8" height="17.2" rx="4.3" ry="5.8"/>
<rect x="707.31" y="1114.20" width="4" height="20" fill-opacity="0.55"/><rect x="703.91" y="1115.40" width="10.8" height="17.2" rx="4.3" ry="5.8"/>
<rect x="719.89" y="1121.90" width="4" height="20" fill-opacity="0.55"/><rect x="716.50" y="1123.10" width="10.8" height="17.2" rx="4.3" ry="5.8"/>
<rect x="732.48" y="1119.90" width="4" height="20" fill-opacity="0.55"/><rect x="729.08" y="1121.10" width="10.8" height="17.2" rx="4.3" ry="5.8"/>
<rect x="745.07" y="1276.00" width="4" height="20" fill-opacity="0.55"/><rect x="741.67" y="1277.20" width="10.8" height="17.2" rx="4.3" ry="5.8"/>
<rect x="757.65" y="1278.10" width="4" height="20" fill-opacity="0.55"/><rect x="754.25" y="1279.30" width="10.8" height="17.2" rx="4.3" ry="5.8"/>
<rect x="770.24" y="1297.90" width="4" height="20" fill-opacity="0.55"/><rect x="766.84" y="1299.10" width="10.8" height="17.2" rx="4.3" ry="5.8"/>
<rect x="782.82" y="1303.00" width="4" height="20" fill-opacity="0.55"/><rect x="779.42" y="1304.20" width="10.8" height="17.2" rx="4.3" ry="5.8"/>
<rect x="795.40" y="1348.00" width="4" height="20" fill-opacity="0.55"/><rect x="792.00" y="1349.20" width="10.8" height="17.2" rx="4.3" ry="5.8"/>
<rect x="807.99" y="1270.90" width="4" height="20" fill-opacity="0.55"/><rect x="804.59" y="1272.10" width="10.8" height="17.2" rx="4.3" ry="5.8"/>
<rect x="820.58" y="1275.50" width="4" height="20" fill-opacity="0.55"/><rect x="817.18" y="1276.70" width="10.8" height="17.2" rx="4.3" ry="5.8"/>
<rect x="833.16" y="1285.00" width="4" height="20" fill-opacity="0.55"/><rect x="829.76" y="1286.20" width="10.8" height="17.2" rx="4.3" ry="5.8"/>
<rect x="845.75" y="1293.50" width="4" height="20" fill-opacity="0.55"/><rect x="842.35" y="1294.70" width="10.8" height="17.2" rx="4.3" ry="5.8"/>
<rect x="858.33" y="1306.90" width="4" height="20" fill-opacity="0.55"/><rect x="854.93" y="1308.10" width="10.8" height="17.2" rx="4.3" ry="5.8"/>
<rect x="870.92" y="1278.10" width="4" height="20" fill-opacity="0.55"/><rect x="867.52" y="1279.30" width="10.8" height="17.2" rx="4.3" ry="5.8"/>
<rect x="883.50" y="1272.00" width="4" height="20" fill-opacity="0.55"/><rect x="880.10" y="1273.20" width="10.8" height="17.2" rx="4.3" ry="5.8"/>
<rect x="896.09" y="1264.50" width="4" height="20" fill-opacity="0.55"/><rect x="892.69" y="1265.70" width="10.8" height="17.2" rx="4.3" ry="5.8"/>
<rect x="908.67" y="1267.10" width="4" height="20" fill-opacity="0.55"/><rect x="905.27" y="1268.30" width="10.8" height="17.2" rx="4.3" ry="5.8"/>
<rect x="921.25" y="1273.50" width="4" height="20" fill-opacity="0.55"/><rect x="917.86" y="1274.70" width="10.8" height="17.2" rx="4.3" ry="5.8"/>
<rect x="933.84" y="1228.50" width="4" height="20" fill-opacity="0.55"/><rect x="930.44" y="1229.70" width="10.8" height="17.2" rx="4.3" ry="5.8"/>
<rect x="946.43" y="1246.50" width="4" height="20" fill-opacity="0.55"/><rect x="943.03" y="1247.70" width="10.8" height="17.2" rx="4.3" ry="5.8"/>
<rect x="959.01" y="1267.10" width="4" height="20" fill-opacity="0.55"/><rect x="955.61" y="1268.30" width="10.8" height="17.2" rx="4.3" ry="5.8"/>
<rect x="971.60" y="1260.10" width="4" height="20" fill-opacity="0.55"/><rect x="968.20" y="1261.30" width="10.8" height="17.2" rx="4.3" ry="5.8"/>
<rect x="984.18" y="1273.50" width="4" height="20" fill-opacity="0.55"/><rect x="980.78" y="1274.70" width="10.8" height="17.2" rx="4.3" ry="5.8"/>
<rect x="996.76" y="1278.10" width="4" height="20" fill-opacity="0.55"/><rect x="993.37" y="1279.30" width="10.8" height="17.2" rx="4.3" ry="5.8"/>
<rect x="1009.35" y="1252.40" width="4" height="20" fill-opacity="0.55"/><rect x="1005.95" y="1253.60" width="10.8" height="17.2" rx="4.3" ry="5.8"/>
<rect x="1021.94" y="1215.70" width="4" height="20" fill-opacity="0.55"/><rect x="1018.54" y="1216.90" width="10.8" height="17.2" rx="4.3" ry="5.8"/>
<rect x="1034.52" y="1196.40" width="4" height="20" fill-opacity="0.55"/><rect x="1031.12" y="1197.60" width="10.8" height="17.2" rx="4.3" ry="5.8"/>
<rect x="1047.11" y="1261.90" width="4" height="20" fill-opacity="0.55"/><rect x="1043.70" y="1263.10" width="10.8" height="17.2" rx="4.3" ry="5.8"/>
<rect x="1059.69" y="1276.00" width="4" height="20" fill-opacity="0.55"/><rect x="1056.29" y="1277.20" width="10.8" height="17.2" rx="4.3" ry="5.8"/>
<rect x="1072.28" y="1271.40" width="4" height="20" fill-opacity="0.55"/><rect x="1068.88" y="1272.60" width="10.8" height="17.2" rx="4.3" ry="5.8"/>
<rect x="1084.86" y="1253.40" width="4" height="20" fill-opacity="0.55"/><rect x="1081.46" y="1254.60" width="10.8" height="17.2" rx="4.3" ry="5.8"/>
<rect x="1097.45" y="1246.50" width="4" height="20" fill-opacity="0.55"/><rect x="1094.05" y="1247.70" width="10.8" height="17.2" rx="4.3" ry="5.8"/>
<rect x="1110.03" y="1235.50" width="4" height="20" fill-opacity="0.55"/><rect x="1106.63" y="1236.70" width="10.8" height="17.2" rx="4.3" ry="5.8"/>
<rect x="1122.62" y="1252.90" width="4" height="20" fill-opacity="0.55"/><rect x="1119.21" y="1254.10" width="10.8" height="17.2" rx="4.3" ry="5.8"/>
<rect x="1135.20" y="1284.30" width="4" height="20" fill-opacity="0.55"/><rect x="1131.80" y="1285.50" width="10.8" height="17.2" rx="4.3" ry="5.8"/>
<rect x="1147.79" y="1272.20" width="4" height="20" fill-opacity="0.55"/><rect x="1144.38" y="1273.40" width="10.8" height="17.2" rx="4.3" ry="5.8"/>
<rect x="1160.37" y="1270.90" width="4" height="20" fill-opacity="0.55"/><rect x="1156.97" y="1272.10" width="10.8" height="17.2" rx="4.3" ry="5.8"/>
<rect x="1172.96" y="1258.10" width="4" height="20" fill-opacity="0.55"/><rect x="1169.56" y="1259.30" width="10.8" height="17.2" rx="4.3" ry="5.8"/>
<rect x="1185.54" y="1273.00" width="4" height="20" fill-opacity="0.55"/><rect x="1182.14" y="1274.20" width="10.8" height="17.2" rx="4.3" ry="5.8"/>
<rect x="1198.13" y="1264.50" width="4" height="20" fill-opacity="0.55"/><rect x="1194.73" y="1265.70" width="10.8" height="17.2" rx="4.3" ry="5.8"/>
<rect x="1210.71" y="1256.80" width="4" height="20" fill-opacity="0.55"/><rect x="1207.31" y="1258.00" width="10.8" height="17.2" rx="4.3" ry="5.8"/>
<rect x="1223.30" y="1300.50" width="4" height="20" fill-opacity="0.55"/><rect x="1219.89" y="1301.70" width="10.8" height="17.2" rx="4.3" ry="5.8"/>
<rect x="1235.88" y="1286.80" width="4" height="20" fill-opacity="0.55"/><rect x="1232.48" y="1288.00" width="10.8" height="17.2" rx="4.3" ry="5.8"/>
<rect x="1248.47" y="1259.40" width="4" height="20" fill-opacity="0.55"/><rect x="1245.07" y="1260.60" width="10.8" height="17.2" rx="4.3" ry="5.8"/>
<rect x="1261.05" y="1249.10" width="4" height="20" fill-opacity="0.55"/><rect x="1257.65" y="1250.30" width="10.8" height="17.2" rx="4.3" ry="5.8"/>
<rect x="1273.64" y="1264.50" width="4" height="20" fill-opacity="0.55"/><rect x="1270.24" y="1265.70" width="10.8" height="17.2" rx="4.3" ry="5.8"/>
<rect x="1286.22" y="1285.00" width="4" height="20" fill-opacity="0.55"/><rect x="1282.82" y="1286.20" width="10.8" height="17.2" rx="4.3" ry="5.8"/>
<rect x="1298.81" y="1321.00" width="4" height="20" fill-opacity="0.55"/><rect x="1295.40" y="1322.20" width="10.8" height="17.2" rx="4.3" ry="5.8"/>
<rect x="1311.39" y="1288.90" width="4" height="20" fill-opacity="0.55"/><rect x="1307.99" y="1290.10" width="10.8" height="17.2" rx="4.3" ry="5.8"/>
<rect x="1323.98" y="1293.50" width="4" height="20" fill-opacity="0.55"/><rect x="1320.58" y="1294.70" width="10.8" height="17.2" rx="4.3" ry="5.8"/>
<rect x="1336.56" y="1293.50" width="4" height="20" fill-opacity="0.55"/><rect x="1333.16" y="1294.70" width="10.8" height="17.2" rx="4.3" ry="5.8"/>
<rect x="1349.15" y="1344.10" width="4" height="20" fill-opacity="0.55"/><rect x="1345.75" y="1345.30" width="10.8" height="17.2" rx="4.3" ry="5.8"/>
<rect x="1361.73" y="1265.80" width="4" height="20" fill-opacity="0.55"/><rect x="1358.33" y="1267.00" width="10.8" height="17.2" rx="4.3" ry="5.8"/>
<rect x="1374.32" y="1279.90" width="4" height="20" fill-opacity="0.55"/><rect x="1370.92" y="1281.10" width="10.8" height="17.2" rx="4.3" ry="5.8"/>
<rect x="1386.90" y="1285.00" width="4" height="20" fill-opacity="0.55"/><rect x="1383.50" y="1286.20" width="10.8" height="17.2" rx="4.3" ry="5.8"/>
<rect x="1399.49" y="1276.00" width="4" height="20" fill-opacity="0.55"/><rect x="1396.09" y="1277.20" width="10.8" height="17.2" rx="4.3" ry="5.8"/>
</g>
<g transform="scale(1.75,2.9)">
<polyline points="74.51,383.24 81.71,382.52 88.90,374.66 96.09,422.21 103.28,377.76 110.47,375.90 117.66,377.93 124.85,373.93 132.05,370.83 139.24,375.69 146.43,384.14 153.62,373.48 160.81,372.17 168.00,370.00 175.19,388.10 182.39,375.69 189.58,379.69 196.77,374.83 203.96,370.83 211.15,378.38 218.34,374.38 225.53,373.24 232.73,389.00 239.92,373.93 247.11,373.03 254.30,397.86 261.49,377.03 268.68,373.03 275.87,376.31 283.07,375.69 290.26,376.45 297.45,375.69 304.64,376.31 311.83,379.69 319.02,377.48 326.21,380.14 333.41,377.03 340.60,375.45 347.79,371.72 354.98,374.83 362.17,373.93 369.36,387.48 376.55,381.03 383.75,385.45 390.94,387.48 398.13,370.38 405.32,381.90 412.51,379.69 419.70,383.24 426.89,371.28 434.09,374.14 441.28,380.14 448.47,370.83 455.66,378.79 462.85,377.48 470.04,372.62 477.23,377.48 484.43,378.79 491.62,374.83 498.81,371.72 506.00,372.41 513.19,371.90 520.38,372.34 527.57,372.34 534.77,383.24 541.96,372.41 549.15,374.83 556.34,373.48 563.53,371.90 570.72,372.62 577.91,383.24 585.11,372.17 592.30,377.93 599.49,371.72 606.68,373.48 613.87,377.48 621.06,385.90 628.25,374.38 635.45,378.79 642.64,385.00 649.83,374.38 657.02,377.76 664.21,371.28 671.40,383.69 678.59,377.93 685.79,385.00 692.98,370.83 700.17,381.03 707.36,381.90 714.55,372.62 721.74,379.24 728.93,372.17 736.13,377.48 743.32,370.38 750.51,383.24 757.70,386.34 764.89,379.69 772.08,377.93 779.27,374.83 786.47,376.14 793.66,377.03 800.85,379.69" fill="none" stroke="#2ca02c" stroke-width="1.5" stroke-linejoin="round" stroke-linecap="butt"/>
</g>
<g fill="#2ca02c">
<rect x="128.40" y="1101.40" width="4" height="20" fill-opacity="0.55"/><rect x="125.00" y="1102.60" width="10.8" height="17.2" rx="4.3" ry="5.8"/>
<rect x="140.99" y="1099.30" width="4" height="20" fill-opacity="0.55"/><rect x="137.59" y="1100.50" width="10.8" height="17.2" rx="4.3" ry="5.8"/>
<rect x="153.57" y="1076.50" width="4" height="20" fill-opacity="0.55"/><rect x="150.17" y="1077.70" width="10.8" height="17.2" rx="4.3" ry="5.8"/>
<rect x="166.16" y="1214.40" width="4" height="20" fill-opacity="0.55"/><rect x="162.75" y="1215.60" width="10.8" height="17.2" rx="4.3" ry="5.8"/>
<rect x="178.74" y="1085.50" width="4" height="20" fill-opacity="0.55"/><rect x="175.34" y="1086.70" width="10.8" height="17.2" rx="4.3" ry="5.8"/>
<rect x="191.33" y="1080.10" width="4" height="20" fill-opacity="0.55"/><rect x="187.93" y="1081.30" width="10.8" height="17.2" rx="4.3" ry="5.8"/>
<rect x="203.91" y="1086.00" width="4" height="20" fill-opacity="0.55"/><rect x="200.51" y="1087.20" width="10.8" height="17.2" rx="4.3" ry="5.8"/>
<rect x="216.50" y="1074.40" width="4" height="20" fill-opacity="0.55"/><rect x="213.09" y="1075.60" width="10.8" height="17.2" rx="4.3" ry="5.8"/>
<rect x="229.08" y="1065.40" width="4" height="20" fill-opacity="0.55"/><rect x="225.68" y="1066.60" width="10.8" height="17.2" rx="4.3" ry="5.8"/>
<rect x="241.67" y="1079.50" width="4" height="20" fill-opacity="0.55"/><rect x="238.27" y="1080.70" width="10.8" height="17.2" rx="4.3" ry="5.8"/>
<rect x="254.25" y="1104.00" width="4" height="20" fill-opacity="0.55"/><rect x="250.85" y="1105.20" width="10.8" height="17.2" rx="4.3" ry="5.8"/>
<rect x="266.84" y="1073.10" width="4" height="20" fill-opacity="0.55"/><rect x="263.44" y="1074.30" width="10.8" height="17.2" rx="4.3" ry="5.8"/>
<rect x="279.42" y="1069.30" width="4" height="20" fill-opacity="0.55"/><rect x="276.02" y="1070.50" width="10.8" height="17.2" rx="4.3" ry="5.8"/>
<rect x="292.00" y="1063.00" width="4" height="20" fill-opacity="0.55"/><rect x="288.61" y="1064.20" width="10.8" height="17.2" rx="4.3" ry="5.8"/>
<rect x="304.59" y="1115.50" width="4" height="20" fill-opacity="0.55"/><rect x="301.19" y="1116.70" width="10.8" height="17.2" rx="4.3" ry="5.8"/>
<rect x="317.18" y="1079.50" width="4" height="20" fill-opacity="0.55"/><rect x="313.78" y="1080.70" width="10.8" height="17.2" rx="4.3" ry="5.8"/>
<rect x="329.76" y="1091.10" width="4" height="20" fill-opacity="0.55"/><rect x="326.36" y="1092.30" width="10.8" height="17.2" rx="4.3" ry="5.8"/>
<rect x="342.35" y="1077.00" width="4" height="20" fill-opacity="0.55"/><rect x="338.95" y="1078.20" width="10.8" height="17.2" rx="4.3" ry="5.8"/>
<rect x="354.93" y="1065.40" width="4" height="20" fill-opacity="0.55"/><rect x="351.53" y="1066.60" width="10.8" height="17.2" rx="4.3" ry="5.8"/>
<rect x="367.51" y="1087.30" width="4" height="20" fill-opacity="0.55"/><rect x="364.12" y="1088.50" width="10.8" height="17.2" rx="4.3" ry="5.8"/>
<rect x="380.10" y="1075.70" width="4" height="20" fill-opacity="0.55"/><rect x="376.70" y="1076.90" width="10.8" height="17.2" rx="4.3" ry="5.8"/>
<rect x="392.69" y="1072.40" width="4" height="20" fill-opacity="0.55"/><rect x="389.29" y="1073.60" width="10.8" height="17.2" rx="4.3" ry="5.8"/>
<rect x="405.27" y="1118.10" width="4" height="20" fill-opacity="0.55"/><rect x="401.87" y="1119.30" width="10.8" height="17.2" rx="4.3" ry="5.8"/>
<rect x="417.86" y="1074.40" width="4" height="20" fill-opacity="0.55"/><rect x="414.46" y="1075.60" width="10.8" height="17.2" rx="4.3" ry="5.8"/>
<rect x="430.44" y="1071.80" width="4" height="20" fill-opacity="0.55"/><rect x="427.04" y="1073.00" width="10.8" height="17.2" rx="4.3" ry="5.8"/>
<rect x="443.02" y="1143.80" width="4" height="20" fill-opacity="0.55"/><rect x="439.62" y="1145.00" width="10.8" height="17.2" rx="4.3" ry="5.8"/>
<rect x="455.61" y="1083.40" width="4" height="20" fill-opacity="0.55"/><rect x="452.21" y="1084.60" width="10.8" height="17.2" rx="4.3" ry="5.8"/>
<rect x="468.20" y="1071.80" width="4" height="20" fill-opacity="0.55"/><rect x="464.80" y="1073.00" width="10.8" height="17.2" rx="4.3" ry="5.8"/>
<rect x="480.78" y="1081.30" width="4" height="20" fill-opacity="0.55"/><rect x="477.38" y="1082.50" width="10.8" height="17.2" rx="4.3" ry="5.8"/>
<rect x="493.37" y="1079.50" width="4" height="20" fill-opacity="0.55"/><rect x="489.97" y="1080.70" width="10.8" height="17.2" rx="4.3" ry="5.8"/>
<rect x="505.95" y="1081.70" width="4" height="20" fill-opacity="0.55"/><rect x="502.55" y="1082.90" width="10.8" height="17.2" rx="4.3" ry="5.8"/>
<rect x="518.54" y="1079.50" width="4" height="20" fill-opacity="0.55"/><rect x="515.14" y="1080.70" width="10.8" height="17.2" rx="4.3" ry="5.8"/>
<rect x="531.12" y="1081.30" width="4" height="20" fill-opacity="0.55"/><rect x="527.72" y="1082.50" width="10.8" height="17.2" rx="4.3" ry="5.8"/>
<rect x="543.71" y="1091.10" width="4" height="20" fill-opacity="0.55"/><rect x="540.31" y="1092.30" width="10.8" height="17.2" rx="4.3" ry="5.8"/>
<rect x="556.29" y="1084.70" width="4" height="20" fill-opacity="0.55"/><rect x="552.89" y="1085.90" width="10.8" height="17.2" rx="4.3" ry="5.8"/>
<rect x="568.88" y="1092.40" width="4" height="20" fill-opacity="0.55"/><rect x="565.48" y="1093.60" width="10.8" height="17.2" rx="4.3" ry="5.8"/>
<rect x="581.46" y="1083.40" width="4" height="20" fill-opacity="0.55"/><rect x="578.06" y="1084.60" width="10.8" height="17.2" rx="4.3" ry="5.8"/>
<rect x="594.05" y="1078.80" width="4" height="20" fill-opacity="0.55"/><rect x="590.65" y="1080.00" width="10.8" height="17.2" rx="4.3" ry="5.8"/>
<rect x="606.63" y="1068.00" width="4" height="20" fill-opacity="0.55"/><rect x="603.23" y="1069.20" width="10.8" height="17.2" rx="4.3" ry="5.8"/>
<rect x="619.22" y="1077.00" width="4" height="20" fill-opacity="0.55"/><rect x="615.82" y="1078.20" width="10.8" height="17.2" rx="4.3" ry="5.8"/>
<rect x="631.80" y="1074.40" width="4" height="20" fill-opacity="0.55"/><rect x="628.40" y="1075.60" width="10.8" height="17.2" rx="4.3" ry="5.8"/>
<rect x="644.38" y="1113.70" width="4" height="20" fill-opacity="0.55"/><rect x="640.99" y="1114.90" width="10.8" height="17.2" rx="4.3" ry="5.8"/>
<rect x="656.97" y="1095.00" width="4" height="20" fill-opacity="0.55"/><rect x="653.57" y="1096.20" width="10.8" height="17.2" rx="4.3" ry="5.8"/>
<rect x="669.56" y="1107.80" width="4" height="20" fill-opacity="0.55"/><rect x="666.16" y="1109.00" width="10.8" height="17.2" rx="4.3" ry="5.8"/>
<rect x="682.14" y="1113.70" width="4" height="20" fill-opacity="0.55"/><rect x="678.74" y="1114.90" width="10.8" height="17.2" rx="4.3" ry="5.8"/>
<rect x="694.73" y="1064.10" width="4" height="20" fill-opacity="0.55"/><rect x="691.33" y="1065.30" width="10.8" height="17.2" rx="4.3" ry="5.8"/>
<rect x="707.31" y="1097.50" width="4" height="20" fill-opacity="0.55"/><rect x="703.91" y="1098.70" width="10.8" height="17.2" rx="4.3" ry="5.8"/>
<rect x="719.89" y="1091.10" width="4" height="20" fill-opacity="0.55"/><rect x="716.50" y="1092.30" width="10.8" height="17.2" rx="4.3" ry="5.8"/>
<rect x="732.48" y="1101.40" width="4" height="20" fill-opacity="0.55"/><rect x="729.08" y="1102.60" width="10.8" height="17.2" rx="4.3" ry="5.8"/>
<rect x="745.07" y="1066.70" width="4" height="20" fill-opacity="0.55"/><rect x="741.67" y="1067.90" width="10.8" height="17.2" rx="4.3" ry="5.8"/>
<rect x="757.65" y="1075.00" width="4" height="20" fill-opacity="0.55"/><rect x="754.25" y="1076.20" width="10.8" height="17.2" rx="4.3" ry="5.8"/>
<rect x="770.24" y="1092.40" width="4" height="20" fill-opacity="0.55"/><rect x="766.84" y="1093.60" width="10.8" height="17.2" rx="4.3" ry="5.8"/>
<rect x="782.82" y="1065.40" width="4" height="20" fill-opacity="0.55"/><rect x="779.42" y="1066.60" width="10.8" height="17.2" rx="4.3" ry="5.8"/>
<rect x="795.40" y="1088.50" width="4" height="20" fill-opacity="0.55"/><rect x="792.00" y="1089.70" width="10.8" height="17.2" rx="4.3" ry="5.8"/>
<rect x="807.99" y="1084.70" width="4" height="20" fill-opacity="0.55"/><rect x="804.59" y="1085.90" width="10.8" height="17.2" rx="4.3" ry="5.8"/>
<rect x="820.58" y="1070.60" width="4" height="20" fill-opacity="0.55"/><rect x="817.18" y="1071.80" width="10.8" height="17.2" rx="4.3" ry="5.8"/>
<rect x="833.16" y="1084.70" width="4" height="20" fill-opacity="0.55"/><rect x="829.76" y="1085.90" width="10.8" height="17.2" rx="4.3" ry="5.8"/>
<rect x="845.75" y="1088.50" width="4" height="20" fill-opacity="0.55"/><rect x="842.35" y="1089.70" width="10.8" height="17.2" rx="4.3" ry="5.8"/>
<rect x="858.33" y="1077.00" width="4" height="20" fill-opacity="0.55"/><rect x="854.93" y="1078.20" width="10.8" height="17.2" rx="4.3" ry="5.8"/>
<rect x="870.92" y="1068.00" width="4" height="20" fill-opacity="0.55"/><rect x="867.52" y="1069.20" width="10.8" height="17.2" rx="4.3" ry="5.8"/>
<rect x="883.50" y="1070.00" width="4" height="20" fill-opacity="0.55"/><rect x="880.10" y="1071.20" width="10.8" height="17.2" rx="4.3" ry="5.8"/>
<rect x="896.09" y="1068.50" width="4" height="20" fill-opacity="0.55"/><rect x="892.69" y="1069.70" width="10.8" height="17.2" rx="4.3" ry="5.8"/>
<rect x="908.67" y="1069.80" width="4" height="20" fill-opacity="0.55"/><rect x="905.27" y="1071.00" width="10.8" height="17.2" rx="4.3" ry="5.8"/>
<rect x="921.25" y="1069.80" width="4" height="20" fill-opacity="0.55"/><rect x="917.86" y="1071.00" width="10.8" height="17.2" rx="4.3" ry="5.8"/>
<rect x="933.84" y="1101.40" width="4" height="20" fill-opacity="0.55"/><rect x="930.44" y="1102.60" width="10.8" height="17.2" rx="4.3" ry="5.8"/>
<rect x="946.43" y="1070.00" width="4" height="20" fill-opacity="0.55"/><rect x="943.03" y="1071.20" width="10.8" height="17.2" rx="4.3" ry="5.8"/>
<rect x="959.01" y="1077.00" width="4" height="20" fill-opacity="0.55"/><rect x="955.61" y="1078.20" width="10.8" height="17.2" rx="4.3" ry="5.8"/>
<rect x="971.60" y="1073.10" width="4" height="20" fill-opacity="0.55"/><rect x="968.20" y="1074.30" width="10.8" height="17.2" rx="4.3" ry="5.8"/>
<rect x="984.18" y="1068.50" width="4" height="20" fill-opacity="0.55"/><rect x="980.78" y="1069.70" width="10.8" height="17.2" rx="4.3" ry="5.8"/>
<rect x="996.76" y="1070.60" width="4" height="20" fill-opacity="0.55"/><rect x="993.37" y="1071.80" width="10.8" height="17.2" rx="4.3" ry="5.8"/>
<rect x="1009.35" y="1101.40" width="4" height="20" fill-opacity="0.55"/><rect x="1005.95" y="1102.60" width="10.8" height="17.2" rx="4.3" ry="5.8"/>
<rect x="1021.94" y="1069.30" width="4" height="20" fill-opacity="0.55"/><rect x="1018.54" y="1070.50" width="10.8" height="17.2" rx="4.3" ry="5.8"/>
<rect x="1034.52" y="1086.00" width="4" height="20" fill-opacity="0.55"/><rect x="1031.12" y="1087.20" width="10.8" height="17.2" rx="4.3" ry="5.8"/>
<rect x="1047.11" y="1068.00" width="4" height="20" fill-opacity="0.55"/><rect x="1043.70" y="1069.20" width="10.8" height="17.2" rx="4.3" ry="5.8"/>
<rect x="1059.69" y="1073.10" width="4" height="20" fill-opacity="0.55"/><rect x="1056.29" y="1074.30" width="10.8" height="17.2" rx="4.3" ry="5.8"/>
<rect x="1072.28" y="1084.70" width="4" height="20" fill-opacity="0.55"/><rect x="1068.88" y="1085.90" width="10.8" height="17.2" rx="4.3" ry="5.8"/>
<rect x="1084.86" y="1109.10" width="4" height="20" fill-opacity="0.55"/><rect x="1081.46" y="1110.30" width="10.8" height="17.2" rx="4.3" ry="5.8"/>
<rect x="1097.45" y="1075.70" width="4" height="20" fill-opacity="0.55"/><rect x="1094.05" y="1076.90" width="10.8" height="17.2" rx="4.3" ry="5.8"/>
<rect x="1110.03" y="1088.50" width="4" height="20" fill-opacity="0.55"/><rect x="1106.63" y="1089.70" width="10.8" height="17.2" rx="4.3" ry="5.8"/>
<rect x="1122.62" y="1106.50" width="4" height="20" fill-opacity="0.55"/><rect x="1119.21" y="1107.70" width="10.8" height="17.2" rx="4.3" ry="5.8"/>
<rect x="1135.20" y="1075.70" width="4" height="20" fill-opacity="0.55"/><rect x="1131.80" y="1076.90" width="10.8" height="17.2" rx="4.3" ry="5.8"/>
<rect x="1147.79" y="1085.50" width="4" height="20" fill-opacity="0.55"/><rect x="1144.38" y="1086.70" width="10.8" height="17.2" rx="4.3" ry="5.8"/>
<rect x="1160.37" y="1066.70" width="4" height="20" fill-opacity="0.55"/><rect x="1156.97" y="1067.90" width="10.8" height="17.2" rx="4.3" ry="5.8"/>
<rect x="1172.96" y="1102.70" width="4" height="20" fill-opacity="0.55"/><rect x="1169.56" y="1103.90" width="10.8" height="17.2" rx="4.3" ry="5.8"/>
<rect x="1185.54" y="1086.00" width="4" height="20" fill-opacity="0.55"/><rect x="1182.14" y="1087.20" width="10.8" height="17.2" rx="4.3" ry="5.8"/>
<rect x="1198.13" y="1106.50" width="4" height="20" fill-opacity="0.55"/><rect x="1194.73" y="1107.70" width="10.8" height="17.2" rx="4.3" ry="5.8"/>
<rect x="1210.71" y="1065.40" width="4" height="20" fill-opacity="0.55"/><rect x="1207.31" y="1066.60" width="10.8" height="17.2" rx="4.3" ry="5.8"/>
<rect x="1223.30" y="1095.00" width="4" height="20" fill-opacity="0.55"/><rect x="1219.89" y="1096.20" width="10.8" height="17.2" rx="4.3" ry="5.8"/>
<rect x="1235.88" y="1097.50" width="4" height="20" fill-opacity="0.55"/><rect x="1232.48" y="1098.70" width="10.8" height="17.2" rx="4.3" ry="5.8"/>
<rect x="1248.47" y="1070.60" width="4" height="20" fill-opacity="0.55"/><rect x="1245.07" y="1071.80" width="10.8" height="17.2" rx="4.3" ry="5.8"/>
<rect x="1261.05" y="1089.80" width="4" height="20" fill-opacity="0.55"/><rect x="1257.65" y="1091.00" width="10.8" height="17.2" rx="4.3" ry="5.8"/>
<rect x="1273.64" y="1069.30" width="4" height="20" fill-opacity="0.55"/><rect x="1270.24" y="1070.50" width="10.8" height="17.2" rx="4.3" ry="5.8"/>
<rect x="1286.22" y="1084.70" width="4" height="20" fill-opacity="0.55"/><rect x="1282.82" y="1085.90" width="10.8" height="17.2" rx="4.3" ry="5.8"/>
<rect x="1298.81" y="1064.10" width="4" height="20" fill-opacity="0.55"/><rect x="1295.40" y="1065.30" width="10.8" height="17.2" rx="4.3" ry="5.8"/>
<rect x="1311.39" y="1101.40" width="4" height="20" fill-opacity="0.55"/><rect x="1307.99" y="1102.60" width="10.8" height="17.2" rx="4.3" ry="5.8"/>
<rect x="1323.98" y="1110.40" width="4" height="20" fill-opacity="0.55"/><rect x="1320.58" y="1111.60" width="10.8" height="17.2" rx="4.3" ry="5.8"/>
<rect x="1336.56" y="1091.10" width="4" height="20" fill-opacity="0.55"/><rect x="1333.16" y="1092.30" width="10.8" height="17.2" rx="4.3" ry="5.8"/>
<rect x="1349.15" y="1086.00" width="4" height="20" fill-opacity="0.55"/><rect x="1345.75" y="1087.20" width="10.8" height="17.2" rx="4.3" ry="5.8"/>
<rect x="1361.73" y="1077.00" width="4" height="20" fill-opacity="0.55"/><rect x="1358.33" y="1078.20" width="10.8" height="17.2" rx="4.3" ry="5.8"/>
<rect x="1374.32" y="1080.80" width="4" height="20" fill-opacity="0.55"/><rect x="1370.92" y="1082.00" width="10.8" height="17.2" rx="4.3" ry="5.8"/>
<rect x="1386.90" y="1083.40" width="4" height="20" fill-opacity="0.55"/><rect x="1383.50" y="1084.60" width="10.8" height="17.2" rx="4.3" ry="5.8"/>
<rect x="1399.49" y="1091.10" width="4" height="20" fill-opacity="0.55"/><rect x="1396.09" y="1092.30" width="10.8" height="17.2" rx="4.3" ry="5.8"/>
</g>
<rect x="1108.30" y="1392.30" width="348.00" height="56.30" rx="4" ry="6.5" fill="#fff" fill-opacity="0.8" stroke="#d3d3d3" stroke-width="1.6"/>
<g transform="scale(1.75,2.9)">
<line x1="636.457" y1="489.103" x2="658.000" y2="489.103" stroke="#1f77b4" stroke-width="1.5"/>
</g>
<rect x="1130.90" y="1408.40" width="4" height="20" fill-opacity="0.55" fill="#1f77b4"/><rect x="1127.50" y="1409.60" width="10.8" height="17.2" rx="4.3" ry="5.8" fill="#1f77b4"/>
<g transform="scale(1.75,2.9)">
<line x1="690.057" y1="489.103" x2="711.714" y2="489.103" stroke="#ff7f0e" stroke-width="1.5"/>
</g>
<rect x="1224.80" y="1408.40" width="4" height="20" fill-opacity="0.55" fill="#ff7f0e"/><rect x="1221.40" y="1409.60" width="10.8" height="17.2" rx="4.3" ry="5.8" fill="#ff7f0e"/>
<g transform="scale(1.75,2.9)">
<line x1="744.457" y1="489.103" x2="766.057" y2="489.103" stroke="#2ca02c" stroke-width="1.5"/>
</g>
<rect x="1320.20" y="1408.40" width="4" height="20" fill-opacity="0.55" fill="#2ca02c"/><rect x="1316.80" y="1409.60" width="10.8" height="17.2" rx="4.3" ry="5.8" fill="#2ca02c"/>
<text transform="translate(1164.63,1429.40) scale(0.5184,1)" font-size="32.20" fill="#000">Y</text>
<text transform="translate(1257.90,1429.40) scale(0.5578,1)" font-size="32.20" fill="#000">X</text>
<text transform="translate(1352.20,1429.40) scale(0.6008,1)" font-size="32.40" fill="#000">Frame-rate</text>
<text transform="translate(389.10,1605.00) scale(0.8341,1)" font-size="59.50" fill="#000" stroke="#fff" stroke-width="0.7">G</text>
<text transform="translate(429.93,1605.00) scale(0.9546,1)" font-size="59.50" fill="#000" stroke="#fff" stroke-width="0.7">r</text>
<text transform="translate(450.10,1605.00) scale(0.7133,1)" font-size="59.50" fill="#000" stroke="#fff" stroke-width="0.7">a</text>
<text transform="translate(478.58,1605.00) scale(0.9680,1)" font-size="59.50" fill="#000" stroke="#fff" stroke-width="0.7">d</text>
<text transform="translate(513.27,1605.00) scale(0.9370,1)" font-size="59.50" fill="#000" stroke="#fff" stroke-width="0.7">i</text>
<text transform="translate(526.44,1605.00) scale(0.8954,1)" font-size="59.50" fill="#000" stroke="#fff" stroke-width="0.7">e</text>
<text transform="translate(557.47,1605.00) scale(0.8941,1)" font-size="59.50" fill="#000" stroke="#fff" stroke-width="0.7">n</text>
<text transform="translate(588.32,1605.00) scale(1.0925,1)" font-size="59.50" fill="#000" stroke="#fff" stroke-width="0.7">t</text>
<text transform="translate(629.03,1605.00) scale(0.7926,1)" font-size="59.50" fill="#000" stroke="#fff" stroke-width="0.7">B</text>
<text transform="translate(661.08,1605.00) scale(1.0073,1)" font-size="59.50" fill="#000" stroke="#fff" stroke-width="0.7">o</text>
<text transform="translate(694.29,1605.00) scale(1.0038,1)" font-size="59.50" fill="#000" stroke="#fff" stroke-width="0.7">o</text>
<text transform="translate(729.46,1605.00) scale(0.7478,1)" font-size="59.50" fill="#000" stroke="#fff" stroke-width="0.7">s</text>
<text transform="translate(752.34,1605.00) scale(1.0662,1)" font-size="59.50" fill="#000" stroke="#fff" stroke-width="0.7">t</text>
<text transform="translate(771.74,1605.00) scale(1.0708,1)" font-size="59.50" fill="#000" stroke="#fff" stroke-width="0.7">i</text>
<text transform="translate(787.77,1605.00) scale(0.8941,1)" font-size="59.50" fill="#000" stroke="#fff" stroke-width="0.7">n</text>
<text transform="translate(818.78,1605.00) scale(0.9680,1)" font-size="59.50" fill="#000" stroke="#fff" stroke-width="0.7">g</text>
<text transform="translate(868.44,1605.00) scale(1.0414,1)" font-size="59.50" fill="#000" stroke="#fff" stroke-width="0.7">:</text>
<text transform="translate(903.81,1605.00) scale(0.9465,1)" font-size="59.50" fill="#000" stroke="#fff" stroke-width="0.7">7</text>
<text transform="translate(937.33,1605.00) scale(0.6000,1)" font-size="59.50" fill="#000" stroke="#fff" stroke-width="0.7">1</text>
<text transform="translate(964.58,1605.00) scale(0.9639,1)" font-size="59.50" fill="#000" stroke="#fff" stroke-width="0.7">4</text>
<text transform="translate(994.34,1605.00) scale(1.0414,1)" font-size="59.50" fill="#000" stroke="#fff" stroke-width="0.7">.</text>
<text transform="translate(1009.76,1605.00) scale(0.9317,1)" font-size="59.50" fill="#000" stroke="#fff" stroke-width="0.7">7</text>
<text transform="translate(1041.37,1605.00) scale(0.9026,1)" font-size="59.50" fill="#000" stroke="#fff" stroke-width="0.7">8</text>
</svg>
</body></html>
